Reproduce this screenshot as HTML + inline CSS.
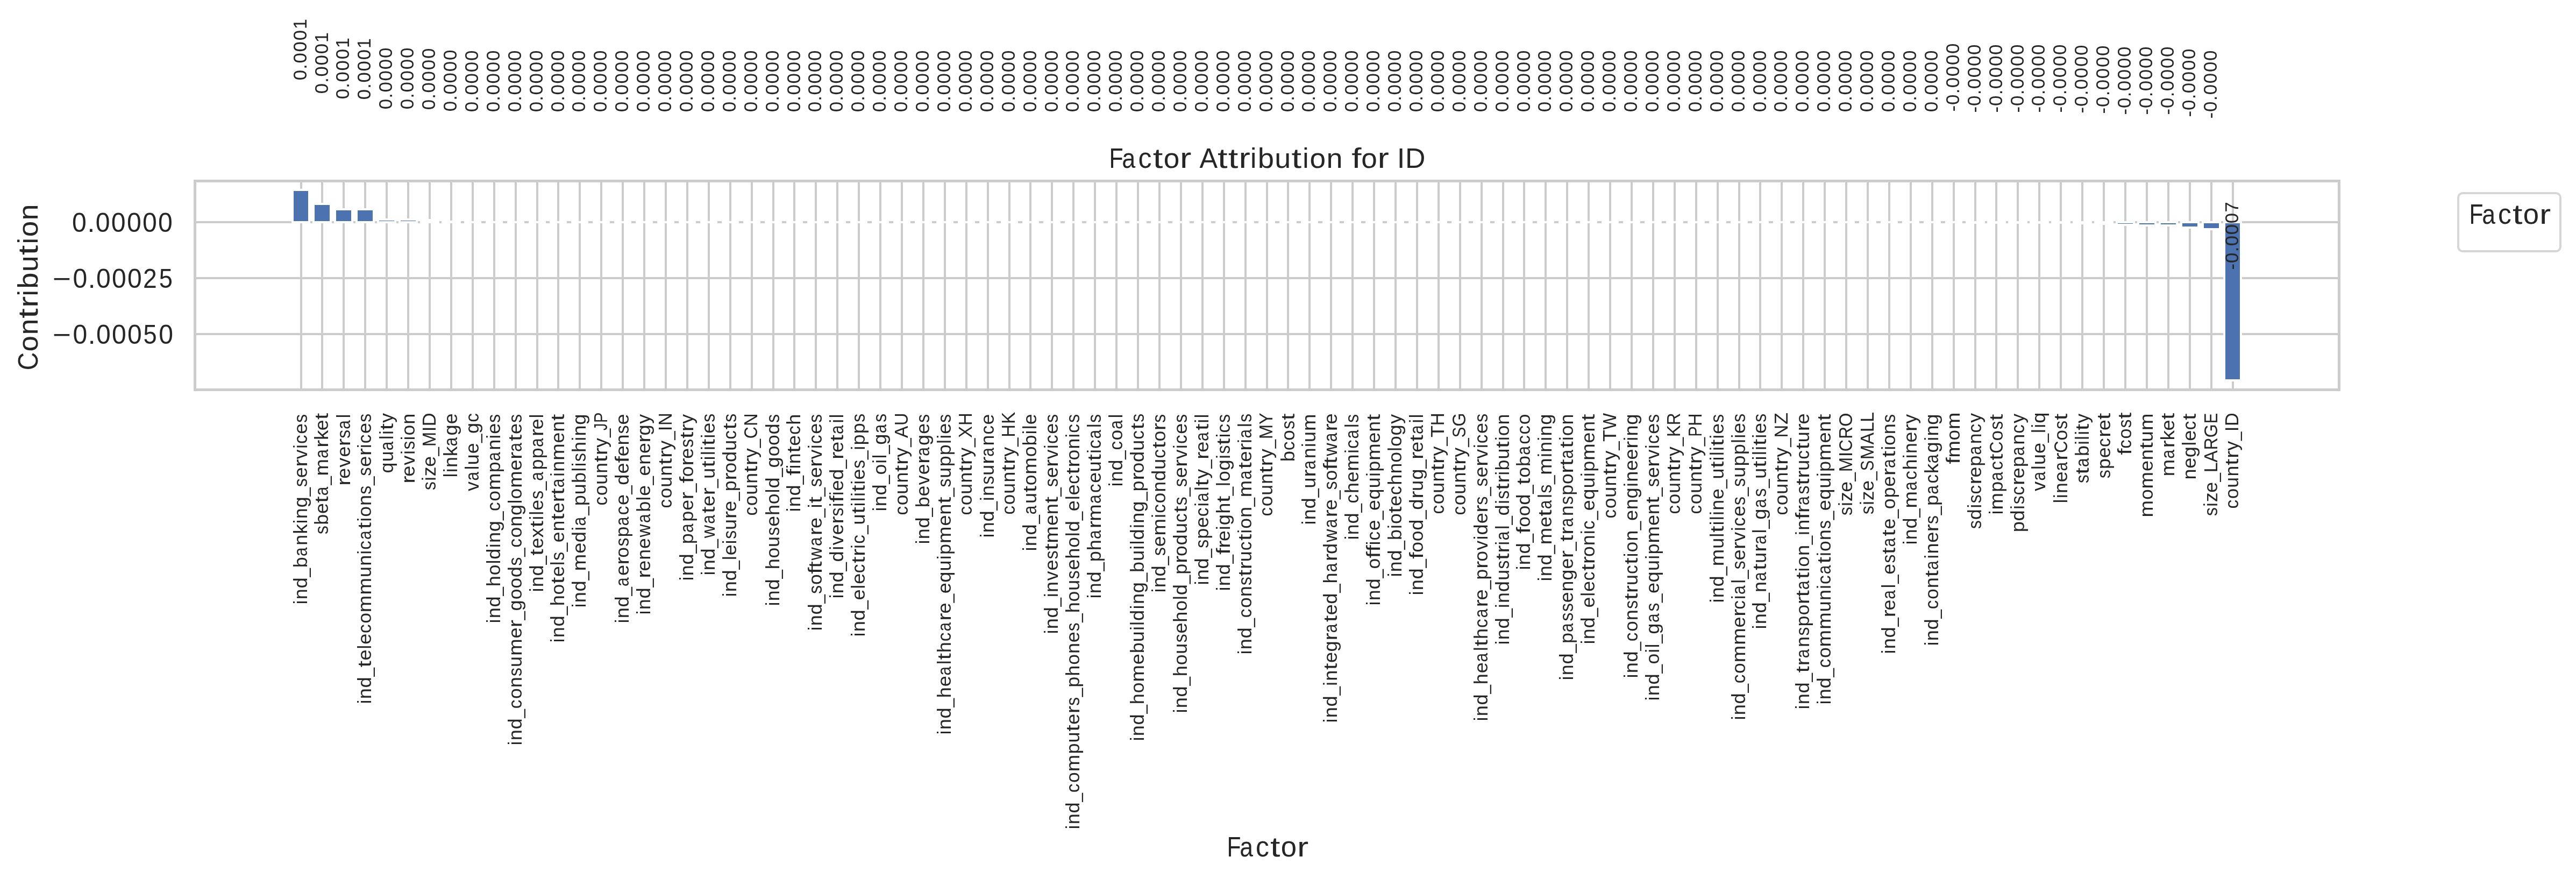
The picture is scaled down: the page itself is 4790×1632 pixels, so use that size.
<!DOCTYPE html>
<html><head><meta charset="utf-8"><title>Factor Attribution for ID</title><style>
html,body{margin:0;padding:0;background:#fff;overflow:hidden}
svg{display:block;will-change:transform}
text{font-family:"Liberation Sans",sans-serif;fill:#262626;font-kerning:none;}
</style></head><body>
<svg width="4790" height="1632" viewBox="0 0 4790 1632" shape-rendering="crispEdges">
<rect width="4790" height="1632" fill="#ffffff"/>
<g class="g" fill="#cccccc"><rect x="558" y="334" width="4" height="393"/><rect x="597" y="334" width="4" height="393"/><rect x="637" y="334" width="4" height="393"/><rect x="677" y="334" width="4" height="393"/><rect x="717" y="334" width="4" height="393"/><rect x="757" y="334" width="4" height="393"/><rect x="797" y="334" width="4" height="393"/><rect x="837" y="334" width="4" height="393"/><rect x="877" y="334" width="4" height="393"/><rect x="917" y="334" width="4" height="393"/><rect x="957" y="334" width="4" height="393"/><rect x="997" y="334" width="4" height="393"/><rect x="1036" y="334" width="4" height="393"/><rect x="1076" y="334" width="4" height="393"/><rect x="1116" y="334" width="4" height="393"/><rect x="1156" y="334" width="4" height="393"/><rect x="1196" y="334" width="4" height="393"/><rect x="1236" y="334" width="4" height="393"/><rect x="1276" y="334" width="4" height="393"/><rect x="1316" y="334" width="4" height="393"/><rect x="1356" y="334" width="4" height="393"/><rect x="1396" y="334" width="4" height="393"/><rect x="1436" y="334" width="4" height="393"/><rect x="1475" y="334" width="4" height="393"/><rect x="1515" y="334" width="4" height="393"/><rect x="1555" y="334" width="4" height="393"/><rect x="1595" y="334" width="4" height="393"/><rect x="1635" y="334" width="4" height="393"/><rect x="1675" y="334" width="4" height="393"/><rect x="1715" y="334" width="4" height="393"/><rect x="1755" y="334" width="4" height="393"/><rect x="1795" y="334" width="4" height="393"/><rect x="1835" y="334" width="4" height="393"/><rect x="1875" y="334" width="4" height="393"/><rect x="1914" y="334" width="4" height="393"/><rect x="1954" y="334" width="4" height="393"/><rect x="1994" y="334" width="4" height="393"/><rect x="2034" y="334" width="4" height="393"/><rect x="2074" y="334" width="4" height="393"/><rect x="2114" y="334" width="4" height="393"/><rect x="2154" y="334" width="4" height="393"/><rect x="2194" y="334" width="4" height="393"/><rect x="2234" y="334" width="4" height="393"/><rect x="2274" y="334" width="4" height="393"/><rect x="2314" y="334" width="4" height="393"/><rect x="2354" y="334" width="4" height="393"/><rect x="2393" y="334" width="4" height="393"/><rect x="2433" y="334" width="4" height="393"/><rect x="2473" y="334" width="4" height="393"/><rect x="2513" y="334" width="4" height="393"/><rect x="2553" y="334" width="4" height="393"/><rect x="2593" y="334" width="4" height="393"/><rect x="2633" y="334" width="4" height="393"/><rect x="2673" y="334" width="4" height="393"/><rect x="2713" y="334" width="4" height="393"/><rect x="2753" y="334" width="4" height="393"/><rect x="2793" y="334" width="4" height="393"/><rect x="2832" y="334" width="4" height="393"/><rect x="2872" y="334" width="4" height="393"/><rect x="2912" y="334" width="4" height="393"/><rect x="2952" y="334" width="4" height="393"/><rect x="2992" y="334" width="4" height="393"/><rect x="3032" y="334" width="4" height="393"/><rect x="3072" y="334" width="4" height="393"/><rect x="3112" y="334" width="4" height="393"/><rect x="3152" y="334" width="4" height="393"/><rect x="3192" y="334" width="4" height="393"/><rect x="3232" y="334" width="4" height="393"/><rect x="3271" y="334" width="4" height="393"/><rect x="3311" y="334" width="4" height="393"/><rect x="3351" y="334" width="4" height="393"/><rect x="3391" y="334" width="4" height="393"/><rect x="3431" y="334" width="4" height="393"/><rect x="3471" y="334" width="4" height="393"/><rect x="3511" y="334" width="4" height="393"/><rect x="3551" y="334" width="4" height="393"/><rect x="3591" y="334" width="4" height="393"/><rect x="3631" y="334" width="4" height="393"/><rect x="3671" y="334" width="4" height="393"/><rect x="3710" y="334" width="4" height="393"/><rect x="3750" y="334" width="4" height="393"/><rect x="3790" y="334" width="4" height="393"/><rect x="3830" y="334" width="4" height="393"/><rect x="3870" y="334" width="4" height="393"/><rect x="3910" y="334" width="4" height="393"/><rect x="3950" y="334" width="4" height="393"/><rect x="3990" y="334" width="4" height="393"/><rect x="4030" y="334" width="4" height="393"/><rect x="4070" y="334" width="4" height="393"/><rect x="4110" y="334" width="4" height="393"/><rect x="4150" y="334" width="4" height="393"/><rect x="360" y="619" width="3992" height="4"/><rect x="360" y="515" width="3992" height="4"/><rect x="360" y="411" width="3992" height="4"/></g>
<g class="bar" fill="#ffffff"><rect x="542" y="351" width="35" height="64"/><rect x="581" y="377" width="36" height="38"/><rect x="621" y="387" width="36" height="28"/><rect x="661" y="387" width="36" height="28"/><rect x="701" y="406" width="36" height="9"/><rect x="741" y="406" width="36" height="9"/><rect x="781" y="407" width="36" height="8"/><rect x="821" y="410" width="36" height="5"/><rect x="863" y="411" width="32" height="4"/><rect x="903" y="411" width="32" height="4"/><rect x="943" y="411" width="32" height="4"/><rect x="983" y="411" width="32" height="4"/><rect x="1022" y="411" width="32" height="4"/><rect x="1062" y="411" width="32" height="4"/><rect x="1102" y="411" width="32" height="4"/><rect x="1142" y="411" width="32" height="4"/><rect x="1182" y="411" width="32" height="4"/><rect x="1222" y="411" width="32" height="4"/><rect x="1262" y="411" width="32" height="4"/><rect x="1302" y="411" width="32" height="4"/><rect x="1342" y="411" width="32" height="4"/><rect x="1382" y="411" width="32" height="4"/><rect x="1422" y="411" width="32" height="4"/><rect x="1462" y="411" width="31" height="4"/><rect x="1501" y="411" width="32" height="4"/><rect x="1541" y="411" width="32" height="4"/><rect x="1581" y="411" width="32" height="4"/><rect x="1621" y="411" width="32" height="4"/><rect x="1661" y="411" width="32" height="4"/><rect x="1701" y="411" width="32" height="4"/><rect x="1741" y="411" width="32" height="4"/><rect x="1781" y="411" width="32" height="4"/><rect x="1821" y="411" width="32" height="4"/><rect x="1861" y="411" width="32" height="4"/><rect x="1901" y="411" width="31" height="4"/><rect x="1940" y="411" width="32" height="4"/><rect x="1980" y="411" width="32" height="4"/><rect x="2020" y="411" width="32" height="4"/><rect x="2060" y="411" width="32" height="4"/><rect x="2100" y="411" width="32" height="4"/><rect x="2140" y="411" width="32" height="4"/><rect x="2180" y="411" width="32" height="4"/><rect x="2220" y="411" width="32" height="4"/><rect x="2260" y="411" width="32" height="4"/><rect x="2300" y="411" width="32" height="4"/><rect x="2340" y="411" width="31" height="4"/><rect x="2379" y="411" width="32" height="4"/><rect x="2419" y="411" width="32" height="4"/><rect x="2459" y="411" width="32" height="4"/><rect x="2499" y="411" width="32" height="4"/><rect x="2539" y="411" width="32" height="4"/><rect x="2579" y="411" width="32" height="4"/><rect x="2619" y="411" width="32" height="4"/><rect x="2659" y="411" width="32" height="4"/><rect x="2699" y="411" width="32" height="4"/><rect x="2739" y="411" width="32" height="4"/><rect x="2779" y="411" width="32" height="4"/><rect x="2818" y="411" width="32" height="4"/><rect x="2858" y="411" width="32" height="4"/><rect x="2898" y="411" width="32" height="4"/><rect x="2938" y="411" width="32" height="4"/><rect x="2978" y="411" width="32" height="4"/><rect x="3018" y="411" width="32" height="4"/><rect x="3058" y="411" width="32" height="4"/><rect x="3098" y="411" width="32" height="4"/><rect x="3138" y="411" width="32" height="4"/><rect x="3178" y="411" width="32" height="4"/><rect x="3218" y="411" width="32" height="4"/><rect x="3258" y="411" width="31" height="4"/><rect x="3297" y="411" width="32" height="4"/><rect x="3337" y="411" width="32" height="4"/><rect x="3377" y="411" width="32" height="4"/><rect x="3417" y="411" width="32" height="4"/><rect x="3457" y="411" width="32" height="4"/><rect x="3497" y="411" width="32" height="4"/><rect x="3537" y="411" width="32" height="4"/><rect x="3577" y="411" width="32" height="4"/><rect x="3617" y="411" width="32" height="4"/><rect x="3655" y="411" width="36" height="5"/><rect x="3695" y="411" width="35" height="5"/><rect x="3734" y="411" width="36" height="5"/><rect x="3774" y="411" width="36" height="5"/><rect x="3814" y="411" width="36" height="5"/><rect x="3854" y="411" width="36" height="6"/><rect x="3894" y="411" width="36" height="7"/><rect x="3934" y="411" width="36" height="9"/><rect x="3974" y="411" width="36" height="10"/><rect x="4014" y="411" width="36" height="10"/><rect x="4054" y="411" width="36" height="14"/><rect x="4094" y="411" width="36" height="17"/><rect x="4134" y="411" width="35" height="298"/></g>
<g class="bar" fill="#4c72b0"><rect x="546" y="355" width="27" height="56"/><rect x="585" y="381" width="28" height="30"/><rect x="625" y="391" width="28" height="20"/><rect x="665" y="391" width="28" height="20"/><rect x="705" y="410" width="28" height="1" fill-opacity="0.98"/><rect x="745" y="410" width="28" height="1" fill-opacity="0.98"/><rect x="3938" y="415" width="28" height="1" fill-opacity="0.98"/><rect x="3978" y="415" width="28" height="2"/><rect x="4018" y="415" width="28" height="2"/><rect x="4058" y="415" width="28" height="6"/><rect x="4098" y="415" width="28" height="9"/><rect x="4138" y="415" width="27" height="290"/></g>
<g class="sp" fill="#cccccc"><rect x="360" y="334" width="5" height="393"/><rect x="4347" y="334" width="5" height="393"/><rect x="360" y="334" width="3992" height="5"/><rect x="360" y="722" width="3992" height="5"/></g>
<rect class="oth" x="4571.00" y="359.00" width="190.00" height="108.00" rx="8.3" ry="8.3" fill="rgba(255,255,255,0.8)" stroke="#d6d6d6" stroke-width="4" shape-rendering="geometricPrecision"/>
<g shape-rendering="geometricPrecision">
<g class="ev" font-size="35.00" transform="translate(570.52 1121.00) rotate(-90)"><text transform="translate(-2.27 0) scale(0.971 1)">i</text><text transform="translate(6.73 0) scale(1.024 1)">n</text><text transform="translate(27.47 0) scale(1.032 1)">d</text><text transform="translate(48.46 0) scale(0.847 1)">_</text><text transform="translate(65.84 0) scale(1.033 1)">b</text><text transform="translate(87.06 0) scale(0.854 1)">a</text><text transform="translate(107.29 0) scale(1.024 1)">n</text><text transform="translate(128.22 0) scale(1.062 1)">k</text><text transform="translate(147.76 0) scale(0.971 1)">i</text><text transform="translate(156.76 0) scale(1.024 1)">n</text><text transform="translate(177.49 0) scale(1.032 1)">g</text><text transform="translate(198.49 0) scale(0.847 1)">_</text><text transform="translate(216.10 0) scale(0.910 1)">s</text><text transform="translate(232.81 0) scale(1.025 1)">e</text><text transform="translate(253.13 0) scale(1.216 1)">r</text><text transform="translate(267.51 0) scale(1.025 1)">v</text><text transform="translate(287.19 0) scale(0.971 1)">i</text><text transform="translate(295.97 0) scale(0.953 1)">c</text><text transform="translate(314.18 0) scale(1.025 1)">e</text><text transform="translate(335.22 0) scale(0.910 1)">s</text></g>
<g class="od" font-size="35.00" transform="translate(610.43 992.00) rotate(-90)"><text transform="translate(-0.88 0) scale(0.908 1)">s</text><text transform="translate(16.18 0) scale(1.031 1)">b</text><text transform="translate(36.95 0) scale(1.024 1)">e</text><text transform="translate(57.26 0) scale(1.267 1)">t</text><text transform="translate(70.70 0) scale(0.852 1)">a</text><text transform="translate(90.38 0) scale(0.845 1)">_</text><text transform="translate(107.55 0) scale(1.080 1)">m</text><text transform="translate(140.24 0) scale(0.852 1)">a</text><text transform="translate(159.98 0) scale(1.214 1)">r</text><text transform="translate(173.99 0) scale(1.060 1)">k</text><text transform="translate(191.69 0) scale(1.024 1)">e</text><text transform="translate(212.01 0) scale(1.267 1)">t</text></g>
<g class="ev" font-size="35.00" transform="translate(650.84 900.00) rotate(-90)"><text transform="translate(-2.83 0) scale(1.217 1)">r</text><text transform="translate(10.25 0) scale(1.026 1)">e</text><text transform="translate(31.25 0) scale(1.025 1)">v</text><text transform="translate(50.39 0) scale(1.026 1)">e</text><text transform="translate(70.72 0) scale(1.217 1)">r</text><text transform="translate(85.15 0) scale(0.910 1)">s</text><text transform="translate(102.29 0) scale(0.854 1)">a</text><text transform="translate(122.72 0) scale(0.971 1)">l</text></g>
<g class="od" font-size="35.00" transform="translate(690.25 1306.00) rotate(-90)"><text transform="translate(-2.28 0) scale(0.972 1)">i</text><text transform="translate(6.74 0) scale(1.026 1)">n</text><text transform="translate(27.52 0) scale(1.034 1)">d</text><text transform="translate(48.55 0) scale(0.848 1)">_</text><text transform="translate(65.51 0) scale(1.271 1)">t</text><text transform="translate(78.58 0) scale(1.028 1)">e</text><text transform="translate(99.59 0) scale(0.972 1)">l</text><text transform="translate(108.30 0) scale(1.028 1)">e</text><text transform="translate(128.88 0) scale(0.955 1)">c</text><text transform="translate(147.17 0) scale(1.011 1)">o</text><text transform="translate(167.80 0) scale(1.084 1)">m</text><text transform="translate(200.39 0) scale(1.084 1)">m</text><text transform="translate(232.97 0) scale(1.026 1)">u</text><text transform="translate(254.22 0) scale(1.026 1)">n</text><text transform="translate(275.54 0) scale(0.972 1)">i</text><text transform="translate(284.34 0) scale(0.955 1)">c</text><text transform="translate(303.00 0) scale(0.855 1)">a</text><text transform="translate(322.84 0) scale(1.271 1)">t</text><text transform="translate(336.47 0) scale(0.972 1)">i</text><text transform="translate(345.20 0) scale(1.011 1)">o</text><text transform="translate(365.97 0) scale(1.026 1)">n</text><text transform="translate(387.34 0) scale(0.912 1)">s</text><text transform="translate(403.91 0) scale(0.848 1)">_</text><text transform="translate(421.56 0) scale(0.912 1)">s</text><text transform="translate(438.30 0) scale(1.028 1)">e</text><text transform="translate(458.66 0) scale(1.219 1)">r</text><text transform="translate(473.07 0) scale(0.972 1)">i</text><text transform="translate(481.86 0) scale(0.955 1)">c</text><text transform="translate(500.11 0) scale(1.028 1)">e</text><text transform="translate(521.19 0) scale(0.912 1)">s</text></g>
<g class="ev" font-size="35.00" transform="translate(730.66 878.00) rotate(-90)"><text transform="translate(-1.50 0) scale(1.023 1)">q</text><text transform="translate(19.70 0) scale(1.016 1)">u</text><text transform="translate(40.84 0) scale(0.848 1)">a</text><text transform="translate(61.12 0) scale(0.964 1)">l</text><text transform="translate(70.29 0) scale(0.964 1)">i</text><text transform="translate(78.81 0) scale(1.260 1)">t</text><text transform="translate(92.36 0) scale(1.012 1)">y</text></g>
<g class="od" font-size="35.00" transform="translate(770.58 896.00) rotate(-90)"><text transform="translate(-2.84 0) scale(1.221 1)">r</text><text transform="translate(10.29 0) scale(1.030 1)">e</text><text transform="translate(31.37 0) scale(1.029 1)">v</text><text transform="translate(51.13 0) scale(0.974 1)">i</text><text transform="translate(60.44 0) scale(0.914 1)">s</text><text transform="translate(77.78 0) scale(0.974 1)">i</text><text transform="translate(86.52 0) scale(1.013 1)">o</text><text transform="translate(107.33 0) scale(1.028 1)">n</text></g>
<g class="ev" font-size="35.00" transform="translate(809.99 910.00) rotate(-90)"><text transform="translate(-0.88 0) scale(0.908 1)">s</text><text transform="translate(16.34 0) scale(0.968 1)">i</text><text transform="translate(24.67 0) scale(1.015 1)">z</text><text transform="translate(42.27 0) scale(1.023 1)">e</text><text transform="translate(62.48 0) scale(0.845 1)">_</text><text transform="translate(79.68 0) scale(0.944 1)">M</text><text transform="translate(107.75 0) scale(1.002 1)">I</text><text transform="translate(117.87 0) scale(0.980 1)">D</text></g>
<g class="od" font-size="35.00" transform="translate(850.40 885.00) rotate(-90)"><text transform="translate(-2.29 0) scale(0.970 1)">l</text><text transform="translate(6.94 0) scale(0.970 1)">i</text><text transform="translate(15.93 0) scale(1.023 1)">n</text><text transform="translate(36.85 0) scale(1.061 1)">k</text><text transform="translate(55.61 0) scale(0.853 1)">a</text><text transform="translate(75.49 0) scale(1.031 1)">g</text><text transform="translate(96.65 0) scale(1.025 1)">e</text></g>
<g class="ev" font-size="35.00" transform="translate(889.81 913.00) rotate(-90)"><text transform="translate(-0.12 0) scale(1.025 1)">v</text><text transform="translate(19.43 0) scale(0.854 1)">a</text><text transform="translate(39.87 0) scale(0.971 1)">l</text><text transform="translate(48.75 0) scale(1.024 1)">u</text><text transform="translate(69.63 0) scale(1.026 1)">e</text><text transform="translate(89.89 0) scale(0.847 1)">_</text><text transform="translate(106.91 0) scale(1.032 1)">g</text><text transform="translate(128.20 0) scale(0.953 1)">c</text></g>
<g class="od" font-size="35.00" transform="translate(929.72 1156.00) rotate(-90)"><text transform="translate(-2.28 0) scale(0.972 1)">i</text><text transform="translate(6.74 0) scale(1.025 1)">n</text><text transform="translate(27.50 0) scale(1.033 1)">d</text><text transform="translate(48.52 0) scale(0.848 1)">_</text><text transform="translate(65.75 0) scale(1.032 1)">h</text><text transform="translate(86.67 0) scale(1.011 1)">o</text><text transform="translate(107.63 0) scale(0.972 1)">l</text><text transform="translate(116.33 0) scale(1.033 1)">d</text><text transform="translate(138.09 0) scale(0.972 1)">i</text><text transform="translate(147.10 0) scale(1.025 1)">n</text><text transform="translate(167.86 0) scale(1.033 1)">g</text><text transform="translate(188.88 0) scale(0.848 1)">_</text><text transform="translate(206.02 0) scale(0.954 1)">c</text><text transform="translate(224.29 0) scale(1.011 1)">o</text><text transform="translate(244.90 0) scale(1.083 1)">m</text><text transform="translate(277.65 0) scale(1.034 1)">p</text><text transform="translate(298.90 0) scale(0.855 1)">a</text><text transform="translate(319.15 0) scale(1.025 1)">n</text><text transform="translate(340.46 0) scale(0.972 1)">i</text><text transform="translate(349.14 0) scale(1.027 1)">e</text><text transform="translate(370.21 0) scale(0.911 1)">s</text></g>
<g class="ev" font-size="35.00" transform="translate(969.63 1383.00) rotate(-90)"><text transform="translate(-2.28 0) scale(0.972 1)">i</text><text transform="translate(6.74 0) scale(1.025 1)">n</text><text transform="translate(27.51 0) scale(1.034 1)">d</text><text transform="translate(48.54 0) scale(0.848 1)">_</text><text transform="translate(65.69 0) scale(0.954 1)">c</text><text transform="translate(83.97 0) scale(1.011 1)">o</text><text transform="translate(104.73 0) scale(1.025 1)">n</text><text transform="translate(126.10 0) scale(0.912 1)">s</text><text transform="translate(143.03 0) scale(1.025 1)">u</text><text transform="translate(164.14 0) scale(1.084 1)">m</text><text transform="translate(196.52 0) scale(1.027 1)">e</text><text transform="translate(216.87 0) scale(1.219 1)">r</text><text transform="translate(230.54 0) scale(0.848 1)">_</text><text transform="translate(247.58 0) scale(1.034 1)">g</text><text transform="translate(268.84 0) scale(1.011 1)">o</text><text transform="translate(289.31 0) scale(1.011 1)">o</text><text transform="translate(309.75 0) scale(1.034 1)">d</text><text transform="translate(331.57 0) scale(0.912 1)">s</text><text transform="translate(348.13 0) scale(0.848 1)">_</text><text transform="translate(365.27 0) scale(0.954 1)">c</text><text transform="translate(383.55 0) scale(1.011 1)">o</text><text transform="translate(404.31 0) scale(1.025 1)">n</text><text transform="translate(425.09 0) scale(1.034 1)">g</text><text transform="translate(446.84 0) scale(0.972 1)">l</text><text transform="translate(455.58 0) scale(1.011 1)">o</text><text transform="translate(476.20 0) scale(1.084 1)">m</text><text transform="translate(508.59 0) scale(1.027 1)">e</text><text transform="translate(528.94 0) scale(1.219 1)">r</text><text transform="translate(543.21 0) scale(0.855 1)">a</text><text transform="translate(563.05 0) scale(1.271 1)">t</text><text transform="translate(576.12 0) scale(1.027 1)">e</text><text transform="translate(597.20 0) scale(0.912 1)">s</text></g>
<g class="od" font-size="35.00" transform="translate(1009.54 1098.00) rotate(-90)"><text transform="translate(-2.27 0) scale(0.970 1)">i</text><text transform="translate(6.73 0) scale(1.023 1)">n</text><text transform="translate(27.46 0) scale(1.032 1)">d</text><text transform="translate(48.44 0) scale(0.846 1)">_</text><text transform="translate(65.36 0) scale(1.269 1)">t</text><text transform="translate(78.40 0) scale(1.025 1)">e</text><text transform="translate(98.44 0) scale(1.053 1)">x</text><text transform="translate(117.80 0) scale(1.269 1)">t</text><text transform="translate(131.39 0) scale(0.970 1)">i</text><text transform="translate(140.60 0) scale(0.970 1)">l</text><text transform="translate(149.28 0) scale(1.025 1)">e</text><text transform="translate(170.32 0) scale(0.910 1)">s</text><text transform="translate(186.84 0) scale(0.846 1)">_</text><text transform="translate(204.26 0) scale(0.853 1)">a</text><text transform="translate(224.53 0) scale(1.033 1)">p</text><text transform="translate(245.70 0) scale(1.033 1)">p</text><text transform="translate(266.92 0) scale(0.853 1)">a</text><text transform="translate(286.69 0) scale(1.216 1)">r</text><text transform="translate(299.76 0) scale(1.025 1)">e</text><text transform="translate(320.73 0) scale(0.970 1)">l</text></g>
<g class="ev" font-size="35.00" transform="translate(1049.45 1192.00) rotate(-90)"><text transform="translate(-2.27 0) scale(0.971 1)">i</text><text transform="translate(6.73 0) scale(1.024 1)">n</text><text transform="translate(27.48 0) scale(1.032 1)">d</text><text transform="translate(48.48 0) scale(0.847 1)">_</text><text transform="translate(65.70 0) scale(1.031 1)">h</text><text transform="translate(86.60 0) scale(1.010 1)">o</text><text transform="translate(106.92 0) scale(1.269 1)">t</text><text transform="translate(119.97 0) scale(1.026 1)">e</text><text transform="translate(140.95 0) scale(0.971 1)">l</text><text transform="translate(150.25 0) scale(0.910 1)">s</text><text transform="translate(166.79 0) scale(0.847 1)">_</text><text transform="translate(183.80 0) scale(1.026 1)">e</text><text transform="translate(204.58 0) scale(1.024 1)">n</text><text transform="translate(225.23 0) scale(1.269 1)">t</text><text transform="translate(238.28 0) scale(1.026 1)">e</text><text transform="translate(258.61 0) scale(1.217 1)">r</text><text transform="translate(272.35 0) scale(1.269 1)">t</text><text transform="translate(285.82 0) scale(0.854 1)">a</text><text transform="translate(306.27 0) scale(0.971 1)">i</text><text transform="translate(315.28 0) scale(1.024 1)">n</text><text transform="translate(336.21 0) scale(1.082 1)">m</text><text transform="translate(368.56 0) scale(1.026 1)">e</text><text transform="translate(389.33 0) scale(1.024 1)">n</text><text transform="translate(409.98 0) scale(1.269 1)">t</text></g>
<g class="od" font-size="35.00" transform="translate(1089.36 1127.00) rotate(-90)"><text transform="translate(-2.28 0) scale(0.973 1)">i</text><text transform="translate(6.74 0) scale(1.026 1)">n</text><text transform="translate(27.52 0) scale(1.034 1)">d</text><text transform="translate(48.56 0) scale(0.849 1)">_</text><text transform="translate(65.80 0) scale(1.084 1)">m</text><text transform="translate(98.19 0) scale(1.028 1)">e</text><text transform="translate(118.68 0) scale(1.034 1)">d</text><text transform="translate(140.45 0) scale(0.973 1)">i</text><text transform="translate(149.56 0) scale(0.856 1)">a</text><text transform="translate(169.31 0) scale(0.849 1)">_</text><text transform="translate(186.73 0) scale(1.035 1)">p</text><text transform="translate(207.77 0) scale(1.026 1)">u</text><text transform="translate(229.06 0) scale(1.035 1)">b</text><text transform="translate(250.45 0) scale(0.973 1)">l</text><text transform="translate(259.70 0) scale(0.973 1)">i</text><text transform="translate(269.00 0) scale(0.912 1)">s</text><text transform="translate(285.96 0) scale(1.033 1)">h</text><text transform="translate(307.40 0) scale(0.973 1)">i</text><text transform="translate(316.42 0) scale(1.026 1)">n</text><text transform="translate(337.20 0) scale(1.034 1)">g</text></g>
<g class="ev" font-size="35.00" transform="translate(1128.77 938.00) rotate(-90)"><text transform="translate(-1.41 0) scale(0.948 1)">c</text><text transform="translate(16.75 0) scale(1.004 1)">o</text><text transform="translate(37.23 0) scale(1.019 1)">u</text><text transform="translate(58.33 0) scale(1.019 1)">n</text><text transform="translate(78.87 0) scale(1.263 1)">t</text><text transform="translate(91.74 0) scale(1.210 1)">r</text><text transform="translate(106.08 0) scale(1.015 1)">y</text><text transform="translate(124.90 0) scale(0.843 1)">_</text><text transform="translate(138.12 0) scale(0.750 1)">J</text><text transform="translate(152.04 0) scale(0.836 1)">P</text></g>
<g class="od" font-size="35.00" transform="translate(1169.19 1156.00) rotate(-90)"><text transform="translate(-2.28 0) scale(0.972 1)">i</text><text transform="translate(6.74 0) scale(1.025 1)">n</text><text transform="translate(27.50 0) scale(1.033 1)">d</text><text transform="translate(48.52 0) scale(0.848 1)">_</text><text transform="translate(65.96 0) scale(0.855 1)">a</text><text transform="translate(85.88 0) scale(1.027 1)">e</text><text transform="translate(106.23 0) scale(1.218 1)">r</text><text transform="translate(119.36 0) scale(1.011 1)">o</text><text transform="translate(140.39 0) scale(0.911 1)">s</text><text transform="translate(157.51 0) scale(1.034 1)">p</text><text transform="translate(178.75 0) scale(0.855 1)">a</text><text transform="translate(198.78 0) scale(0.954 1)">c</text><text transform="translate(217.01 0) scale(1.027 1)">e</text><text transform="translate(237.29 0) scale(0.848 1)">_</text><text transform="translate(254.33 0) scale(1.033 1)">d</text><text transform="translate(275.53 0) scale(1.027 1)">e</text><text transform="translate(295.83 0) scale(1.248 1)">f</text><text transform="translate(307.72 0) scale(1.027 1)">e</text><text transform="translate(328.51 0) scale(1.025 1)">n</text><text transform="translate(349.87 0) scale(0.911 1)">s</text><text transform="translate(366.61 0) scale(1.027 1)">e</text></g>
<g class="ev" font-size="35.00" transform="translate(1209.10 1140.00) rotate(-90)"><text transform="translate(-2.27 0) scale(0.970 1)">i</text><text transform="translate(6.73 0) scale(1.023 1)">n</text><text transform="translate(27.46 0) scale(1.032 1)">d</text><text transform="translate(48.45 0) scale(0.847 1)">_</text><text transform="translate(65.33 0) scale(1.216 1)">r</text><text transform="translate(78.41 0) scale(1.025 1)">e</text><text transform="translate(99.17 0) scale(1.023 1)">n</text><text transform="translate(119.90 0) scale(1.025 1)">e</text><text transform="translate(141.47 0) scale(0.959 1)">w</text><text transform="translate(167.91 0) scale(0.854 1)">a</text><text transform="translate(188.18 0) scale(1.033 1)">b</text><text transform="translate(209.51 0) scale(0.970 1)">l</text><text transform="translate(218.20 0) scale(1.025 1)">e</text><text transform="translate(238.45 0) scale(0.847 1)">_</text><text transform="translate(255.45 0) scale(1.025 1)">e</text><text transform="translate(276.22 0) scale(1.023 1)">n</text><text transform="translate(296.94 0) scale(1.025 1)">e</text><text transform="translate(317.26 0) scale(1.216 1)">r</text><text transform="translate(330.46 0) scale(1.032 1)">g</text><text transform="translate(352.23 0) scale(1.019 1)">y</text></g>
<g class="od" font-size="35.00" transform="translate(1248.51 943.00) rotate(-90)"><text transform="translate(-1.41 0) scale(0.950 1)">c</text><text transform="translate(16.78 0) scale(1.006 1)">o</text><text transform="translate(37.30 0) scale(1.020 1)">u</text><text transform="translate(58.44 0) scale(1.020 1)">n</text><text transform="translate(79.02 0) scale(1.265 1)">t</text><text transform="translate(91.91 0) scale(1.213 1)">r</text><text transform="translate(106.28 0) scale(1.016 1)">y</text><text transform="translate(125.13 0) scale(0.844 1)">_</text><text transform="translate(141.80 0) scale(1.001 1)">I</text><text transform="translate(152.04 0) scale(0.935 1)">N</text></g>
<g class="ev" font-size="35.00" transform="translate(1288.92 1077.00) rotate(-90)"><text transform="translate(-2.27 0) scale(0.970 1)">i</text><text transform="translate(6.73 0) scale(1.024 1)">n</text><text transform="translate(27.47 0) scale(1.032 1)">d</text><text transform="translate(48.46 0) scale(0.847 1)">_</text><text transform="translate(65.84 0) scale(1.033 1)">p</text><text transform="translate(87.06 0) scale(0.854 1)">a</text><text transform="translate(107.34 0) scale(1.033 1)">p</text><text transform="translate(128.14 0) scale(1.025 1)">e</text><text transform="translate(148.46 0) scale(1.216 1)">r</text><text transform="translate(162.10 0) scale(0.847 1)">_</text><text transform="translate(178.94 0) scale(1.247 1)">f</text><text transform="translate(190.86 0) scale(1.009 1)">o</text><text transform="translate(211.13 0) scale(1.216 1)">r</text><text transform="translate(224.21 0) scale(1.025 1)">e</text><text transform="translate(245.25 0) scale(0.910 1)">s</text><text transform="translate(261.88 0) scale(1.269 1)">t</text><text transform="translate(274.81 0) scale(1.216 1)">r</text><text transform="translate(289.23 0) scale(1.020 1)">y</text></g>
<g class="od" font-size="35.00" transform="translate(1328.83 1067.00) rotate(-90)"><text transform="translate(-2.28 0) scale(0.972 1)">i</text><text transform="translate(6.74 0) scale(1.025 1)">n</text><text transform="translate(27.51 0) scale(1.033 1)">d</text><text transform="translate(48.53 0) scale(0.848 1)">_</text><text transform="translate(66.70 0) scale(0.961 1)">w</text><text transform="translate(93.19 0) scale(0.855 1)">a</text><text transform="translate(113.02 0) scale(1.271 1)">t</text><text transform="translate(126.09 0) scale(1.027 1)">e</text><text transform="translate(146.44 0) scale(1.218 1)">r</text><text transform="translate(160.10 0) scale(0.848 1)">_</text><text transform="translate(177.32 0) scale(1.025 1)">u</text><text transform="translate(198.14 0) scale(1.271 1)">t</text><text transform="translate(211.76 0) scale(0.972 1)">i</text><text transform="translate(220.98 0) scale(0.972 1)">l</text><text transform="translate(230.23 0) scale(0.972 1)">i</text><text transform="translate(238.82 0) scale(1.271 1)">t</text><text transform="translate(252.44 0) scale(0.972 1)">i</text><text transform="translate(261.13 0) scale(1.027 1)">e</text><text transform="translate(282.20 0) scale(0.911 1)">s</text></g>
<g class="ev" font-size="35.00" transform="translate(1368.74 1107.00) rotate(-90)"><text transform="translate(-2.28 0) scale(0.972 1)">i</text><text transform="translate(6.74 0) scale(1.025 1)">n</text><text transform="translate(27.51 0) scale(1.034 1)">d</text><text transform="translate(48.54 0) scale(0.848 1)">_</text><text transform="translate(66.11 0) scale(0.972 1)">l</text><text transform="translate(74.81 0) scale(1.027 1)">e</text><text transform="translate(95.84 0) scale(0.972 1)">i</text><text transform="translate(105.13 0) scale(0.912 1)">s</text><text transform="translate(122.06 0) scale(1.025 1)">u</text><text transform="translate(142.85 0) scale(1.219 1)">r</text><text transform="translate(155.95 0) scale(1.027 1)">e</text><text transform="translate(176.24 0) scale(0.848 1)">_</text><text transform="translate(193.65 0) scale(1.035 1)">p</text><text transform="translate(214.37 0) scale(1.219 1)">r</text><text transform="translate(227.52 0) scale(1.011 1)">o</text><text transform="translate(247.95 0) scale(1.034 1)">d</text><text transform="translate(269.35 0) scale(1.025 1)">u</text><text transform="translate(290.37 0) scale(0.954 1)">c</text><text transform="translate(308.52 0) scale(1.271 1)">t</text><text transform="translate(322.20 0) scale(0.912 1)">s</text></g>
<g class="od" font-size="35.00" transform="translate(1408.15 957.00) rotate(-90)"><text transform="translate(-1.41 0) scale(0.948 1)">c</text><text transform="translate(16.75 0) scale(1.004 1)">o</text><text transform="translate(37.22 0) scale(1.018 1)">u</text><text transform="translate(58.31 0) scale(1.018 1)">n</text><text transform="translate(78.84 0) scale(1.262 1)">t</text><text transform="translate(91.70 0) scale(1.210 1)">r</text><text transform="translate(106.04 0) scale(1.014 1)">y</text><text transform="translate(124.85 0) scale(0.842 1)">_</text><text transform="translate(141.76 0) scale(0.877 1)">C</text><text transform="translate(165.08 0) scale(0.933 1)">N</text></g>
<g class="ev" font-size="35.00" transform="translate(1448.56 1124.00) rotate(-90)"><text transform="translate(-2.27 0) scale(0.970 1)">i</text><text transform="translate(6.73 0) scale(1.023 1)">n</text><text transform="translate(27.46 0) scale(1.032 1)">d</text><text transform="translate(48.44 0) scale(0.846 1)">_</text><text transform="translate(65.65 0) scale(1.030 1)">h</text><text transform="translate(86.54 0) scale(1.009 1)">o</text><text transform="translate(107.11 0) scale(1.023 1)">u</text><text transform="translate(128.58 0) scale(0.910 1)">s</text><text transform="translate(145.29 0) scale(1.025 1)">e</text><text transform="translate(165.93 0) scale(1.030 1)">h</text><text transform="translate(186.81 0) scale(1.009 1)">o</text><text transform="translate(207.73 0) scale(0.970 1)">l</text><text transform="translate(216.43 0) scale(1.032 1)">d</text><text transform="translate(237.41 0) scale(0.846 1)">_</text><text transform="translate(254.42 0) scale(1.032 1)">g</text><text transform="translate(275.63 0) scale(1.009 1)">o</text><text transform="translate(296.06 0) scale(1.009 1)">o</text><text transform="translate(316.46 0) scale(1.032 1)">d</text><text transform="translate(338.23 0) scale(0.910 1)">s</text></g>
<g class="od" font-size="35.00" transform="translate(1488.47 949.00) rotate(-90)"><text transform="translate(-2.27 0) scale(0.970 1)">i</text><text transform="translate(6.72 0) scale(1.023 1)">n</text><text transform="translate(27.45 0) scale(1.031 1)">d</text><text transform="translate(48.43 0) scale(0.846 1)">_</text><text transform="translate(65.26 0) scale(1.246 1)">f</text><text transform="translate(77.68 0) scale(0.970 1)">i</text><text transform="translate(86.68 0) scale(1.023 1)">n</text><text transform="translate(107.31 0) scale(1.268 1)">t</text><text transform="translate(120.35 0) scale(1.025 1)">e</text><text transform="translate(140.88 0) scale(0.952 1)">c</text><text transform="translate(159.29 0) scale(1.030 1)">h</text></g>
<g class="ev" font-size="35.00" transform="translate(1528.38 1170.00) rotate(-90)"><text transform="translate(-2.28 0) scale(0.972 1)">i</text><text transform="translate(6.74 0) scale(1.025 1)">n</text><text transform="translate(27.50 0) scale(1.033 1)">d</text><text transform="translate(48.52 0) scale(0.848 1)">_</text><text transform="translate(66.16 0) scale(0.911 1)">s</text><text transform="translate(82.93 0) scale(1.011 1)">o</text><text transform="translate(103.19 0) scale(1.248 1)">f</text><text transform="translate(114.37 0) scale(1.271 1)">t</text><text transform="translate(128.57 0) scale(0.961 1)">w</text><text transform="translate(155.06 0) scale(0.855 1)">a</text><text transform="translate(174.86 0) scale(1.218 1)">r</text><text transform="translate(187.95 0) scale(1.027 1)">e</text><text transform="translate(208.23 0) scale(0.848 1)">_</text><text transform="translate(225.81 0) scale(0.972 1)">i</text><text transform="translate(234.41 0) scale(1.271 1)">t</text><text transform="translate(247.29 0) scale(0.848 1)">_</text><text transform="translate(264.92 0) scale(0.911 1)">s</text><text transform="translate(281.66 0) scale(1.027 1)">e</text><text transform="translate(302.00 0) scale(1.218 1)">r</text><text transform="translate(316.41 0) scale(1.026 1)">v</text><text transform="translate(336.11 0) scale(0.972 1)">i</text><text transform="translate(344.90 0) scale(0.954 1)">c</text><text transform="translate(363.14 0) scale(1.027 1)">e</text><text transform="translate(384.21 0) scale(0.911 1)">s</text></g>
<g class="od" font-size="35.00" transform="translate(1568.30 1110.00) rotate(-90)"><text transform="translate(-2.28 0) scale(0.972 1)">i</text><text transform="translate(6.74 0) scale(1.026 1)">n</text><text transform="translate(27.52 0) scale(1.034 1)">d</text><text transform="translate(48.56 0) scale(0.848 1)">_</text><text transform="translate(65.60 0) scale(1.034 1)">d</text><text transform="translate(87.38 0) scale(0.972 1)">i</text><text transform="translate(96.62 0) scale(1.027 1)">v</text><text transform="translate(115.79 0) scale(1.028 1)">e</text><text transform="translate(136.15 0) scale(1.219 1)">r</text><text transform="translate(150.61 0) scale(0.912 1)">s</text><text transform="translate(167.91 0) scale(0.972 1)">i</text><text transform="translate(176.44 0) scale(1.249 1)">f</text><text transform="translate(188.89 0) scale(0.972 1)">i</text><text transform="translate(197.58 0) scale(1.028 1)">e</text><text transform="translate(218.06 0) scale(1.034 1)">d</text><text transform="translate(239.10 0) scale(0.848 1)">_</text><text transform="translate(256.02 0) scale(1.219 1)">r</text><text transform="translate(269.12 0) scale(1.028 1)">e</text><text transform="translate(289.51 0) scale(1.271 1)">t</text><text transform="translate(303.01 0) scale(0.855 1)">a</text><text transform="translate(323.49 0) scale(0.972 1)">i</text><text transform="translate(332.71 0) scale(0.972 1)">l</text></g>
<g class="ev" font-size="35.00" transform="translate(1608.21 1181.00) rotate(-90)"><text transform="translate(-2.28 0) scale(0.972 1)">i</text><text transform="translate(6.74 0) scale(1.025 1)">n</text><text transform="translate(27.51 0) scale(1.034 1)">d</text><text transform="translate(48.54 0) scale(0.848 1)">_</text><text transform="translate(65.57 0) scale(1.027 1)">e</text><text transform="translate(86.58 0) scale(0.972 1)">l</text><text transform="translate(95.28 0) scale(1.027 1)">e</text><text transform="translate(115.86 0) scale(0.954 1)">c</text><text transform="translate(134.01 0) scale(1.271 1)">t</text><text transform="translate(146.96 0) scale(1.218 1)">r</text><text transform="translate(161.36 0) scale(0.972 1)">i</text><text transform="translate(170.15 0) scale(0.954 1)">c</text><text transform="translate(188.21 0) scale(0.848 1)">_</text><text transform="translate(205.43 0) scale(1.025 1)">u</text><text transform="translate(226.25 0) scale(1.271 1)">t</text><text transform="translate(239.87 0) scale(0.972 1)">i</text><text transform="translate(249.09 0) scale(0.972 1)">l</text><text transform="translate(258.34 0) scale(0.972 1)">i</text><text transform="translate(266.94 0) scale(1.271 1)">t</text><text transform="translate(280.56 0) scale(0.972 1)">i</text><text transform="translate(289.25 0) scale(1.027 1)">e</text><text transform="translate(310.32 0) scale(0.912 1)">s</text><text transform="translate(326.88 0) scale(0.848 1)">_</text><text transform="translate(344.47 0) scale(0.972 1)">i</text><text transform="translate(353.53 0) scale(1.035 1)">p</text><text transform="translate(374.75 0) scale(1.035 1)">p</text><text transform="translate(396.20 0) scale(0.912 1)">s</text></g>
<g class="od" font-size="35.00" transform="translate(1648.12 948.00) rotate(-90)"><text transform="translate(-2.27 0) scale(0.970 1)">i</text><text transform="translate(6.73 0) scale(1.023 1)">n</text><text transform="translate(27.46 0) scale(1.032 1)">d</text><text transform="translate(48.45 0) scale(0.847 1)">_</text><text transform="translate(65.49 0) scale(1.009 1)">o</text><text transform="translate(86.43 0) scale(0.970 1)">i</text><text transform="translate(95.63 0) scale(0.970 1)">l</text><text transform="translate(104.13 0) scale(0.847 1)">_</text><text transform="translate(121.14 0) scale(1.032 1)">g</text><text transform="translate(142.73 0) scale(0.854 1)">a</text><text transform="translate(163.23 0) scale(0.910 1)">s</text></g>
<g class="ev" font-size="35.00" transform="translate(1687.53 956.00) rotate(-90)"><text transform="translate(-1.41 0) scale(0.950 1)">c</text><text transform="translate(16.79 0) scale(1.007 1)">o</text><text transform="translate(37.33 0) scale(1.021 1)">u</text><text transform="translate(58.48 0) scale(1.021 1)">n</text><text transform="translate(79.07 0) scale(1.266 1)">t</text><text transform="translate(91.96 0) scale(1.213 1)">r</text><text transform="translate(106.35 0) scale(1.017 1)">y</text><text transform="translate(125.21 0) scale(0.845 1)">_</text><text transform="translate(142.06 0) scale(0.954 1)">A</text><text transform="translate(164.99 0) scale(0.931 1)">U</text></g>
<g class="od" font-size="35.00" transform="translate(1727.94 1009.00) rotate(-90)"><text transform="translate(-2.27 0) scale(0.970 1)">i</text><text transform="translate(6.72 0) scale(1.023 1)">n</text><text transform="translate(27.44 0) scale(1.031 1)">d</text><text transform="translate(48.41 0) scale(0.846 1)">_</text><text transform="translate(65.78 0) scale(1.032 1)">b</text><text transform="translate(86.56 0) scale(1.025 1)">e</text><text transform="translate(107.54 0) scale(1.024 1)">v</text><text transform="translate(126.65 0) scale(1.025 1)">e</text><text transform="translate(146.95 0) scale(1.215 1)">r</text><text transform="translate(161.18 0) scale(0.853 1)">a</text><text transform="translate(181.06 0) scale(1.031 1)">g</text><text transform="translate(202.22 0) scale(1.025 1)">e</text><text transform="translate(223.24 0) scale(0.909 1)">s</text></g>
<g class="ev" font-size="35.00" transform="translate(1767.85 1363.00) rotate(-90)"><text transform="translate(-2.28 0) scale(0.972 1)">i</text><text transform="translate(6.74 0) scale(1.025 1)">n</text><text transform="translate(27.50 0) scale(1.033 1)">d</text><text transform="translate(48.52 0) scale(0.848 1)">_</text><text transform="translate(65.76 0) scale(1.032 1)">h</text><text transform="translate(86.63 0) scale(1.027 1)">e</text><text transform="translate(107.51 0) scale(0.855 1)">a</text><text transform="translate(127.97 0) scale(0.972 1)">l</text><text transform="translate(136.58 0) scale(1.271 1)">t</text><text transform="translate(149.85 0) scale(1.032 1)">h</text><text transform="translate(170.84 0) scale(0.954 1)">c</text><text transform="translate(189.49 0) scale(0.855 1)">a</text><text transform="translate(209.29 0) scale(1.218 1)">r</text><text transform="translate(222.38 0) scale(1.027 1)">e</text><text transform="translate(242.66 0) scale(0.848 1)">_</text><text transform="translate(259.69 0) scale(1.027 1)">e</text><text transform="translate(280.16 0) scale(1.032 1)">q</text><text transform="translate(301.55 0) scale(1.025 1)">u</text><text transform="translate(323.00 0) scale(0.972 1)">i</text><text transform="translate(332.06 0) scale(1.034 1)">p</text><text transform="translate(353.08 0) scale(1.083 1)">m</text><text transform="translate(385.45 0) scale(1.027 1)">e</text><text transform="translate(406.25 0) scale(1.025 1)">n</text><text transform="translate(426.91 0) scale(1.271 1)">t</text><text transform="translate(439.79 0) scale(0.848 1)">_</text><text transform="translate(457.43 0) scale(0.911 1)">s</text><text transform="translate(474.35 0) scale(1.025 1)">u</text><text transform="translate(495.63 0) scale(1.034 1)">p</text><text transform="translate(516.84 0) scale(1.034 1)">p</text><text transform="translate(538.21 0) scale(0.972 1)">l</text><text transform="translate(547.46 0) scale(0.972 1)">i</text><text transform="translate(556.14 0) scale(1.027 1)">e</text><text transform="translate(577.21 0) scale(0.911 1)">s</text></g>
<g class="od" font-size="35.00" transform="translate(1807.26 956.00) rotate(-90)"><text transform="translate(-1.41 0) scale(0.949 1)">c</text><text transform="translate(16.77 0) scale(1.005 1)">o</text><text transform="translate(37.27 0) scale(1.020 1)">u</text><text transform="translate(58.38 0) scale(1.020 1)">n</text><text transform="translate(78.94 0) scale(1.264 1)">t</text><text transform="translate(91.82 0) scale(1.212 1)">r</text><text transform="translate(106.18 0) scale(1.015 1)">y</text><text transform="translate(125.02 0) scale(0.843 1)">_</text><text transform="translate(141.89 0) scale(0.946 1)">X</text><text transform="translate(164.91 0) scale(0.941 1)">H</text></g>
<g class="ev" font-size="35.00" transform="translate(1847.67 997.00) rotate(-90)"><text transform="translate(-2.27 0) scale(0.971 1)">i</text><text transform="translate(6.73 0) scale(1.024 1)">n</text><text transform="translate(27.48 0) scale(1.032 1)">d</text><text transform="translate(48.48 0) scale(0.847 1)">_</text><text transform="translate(66.05 0) scale(0.971 1)">i</text><text transform="translate(75.05 0) scale(1.024 1)">n</text><text transform="translate(96.40 0) scale(0.911 1)">s</text><text transform="translate(113.31 0) scale(1.024 1)">u</text><text transform="translate(134.07 0) scale(1.217 1)">r</text><text transform="translate(148.32 0) scale(0.854 1)">a</text><text transform="translate(168.56 0) scale(1.024 1)">n</text><text transform="translate(189.41 0) scale(0.953 1)">c</text><text transform="translate(207.62 0) scale(1.026 1)">e</text></g>
<g class="od" font-size="35.00" transform="translate(1887.08 955.00) rotate(-90)"><text transform="translate(-1.41 0) scale(0.949 1)">c</text><text transform="translate(16.78 0) scale(1.006 1)">o</text><text transform="translate(37.29 0) scale(1.020 1)">u</text><text transform="translate(58.42 0) scale(1.020 1)">n</text><text transform="translate(79.00 0) scale(1.265 1)">t</text><text transform="translate(91.88 0) scale(1.212 1)">r</text><text transform="translate(106.26 0) scale(1.016 1)">y</text><text transform="translate(125.10 0) scale(0.844 1)">_</text><text transform="translate(142.29 0) scale(0.941 1)">H</text><text transform="translate(167.10 0) scale(0.954 1)">K</text></g>
<g class="ev" font-size="35.00" transform="translate(1927.49 1022.00) rotate(-90)"><text transform="translate(-2.27 0) scale(0.970 1)">i</text><text transform="translate(6.72 0) scale(1.023 1)">n</text><text transform="translate(27.45 0) scale(1.031 1)">d</text><text transform="translate(48.42 0) scale(0.846 1)">_</text><text transform="translate(65.83 0) scale(0.853 1)">a</text><text transform="translate(85.90 0) scale(1.023 1)">u</text><text transform="translate(106.67 0) scale(1.268 1)">t</text><text transform="translate(119.75 0) scale(1.009 1)">o</text><text transform="translate(140.32 0) scale(1.081 1)">m</text><text transform="translate(172.67 0) scale(1.009 1)">o</text><text transform="translate(193.43 0) scale(1.032 1)">b</text><text transform="translate(214.77 0) scale(0.970 1)">i</text><text transform="translate(223.97 0) scale(0.970 1)">l</text><text transform="translate(232.65 0) scale(1.025 1)">e</text></g>
<g class="od" font-size="35.00" transform="translate(1967.41 1176.00) rotate(-90)"><text transform="translate(-2.28 0) scale(0.972 1)">i</text><text transform="translate(6.74 0) scale(1.025 1)">n</text><text transform="translate(27.50 0) scale(1.033 1)">d</text><text transform="translate(48.52 0) scale(0.848 1)">_</text><text transform="translate(66.10 0) scale(0.972 1)">i</text><text transform="translate(75.12 0) scale(1.025 1)">n</text><text transform="translate(96.43 0) scale(1.026 1)">v</text><text transform="translate(115.59 0) scale(1.027 1)">e</text><text transform="translate(136.66 0) scale(0.911 1)">s</text><text transform="translate(153.31 0) scale(1.271 1)">t</text><text transform="translate(166.57 0) scale(1.083 1)">m</text><text transform="translate(198.94 0) scale(1.027 1)">e</text><text transform="translate(219.73 0) scale(1.025 1)">n</text><text transform="translate(240.40 0) scale(1.271 1)">t</text><text transform="translate(253.28 0) scale(0.848 1)">_</text><text transform="translate(270.92 0) scale(0.911 1)">s</text><text transform="translate(287.66 0) scale(1.027 1)">e</text><text transform="translate(308.00 0) scale(1.218 1)">r</text><text transform="translate(322.40 0) scale(1.026 1)">v</text><text transform="translate(342.11 0) scale(0.972 1)">i</text><text transform="translate(350.90 0) scale(0.954 1)">c</text><text transform="translate(369.13 0) scale(1.027 1)">e</text><text transform="translate(390.20 0) scale(0.911 1)">s</text></g>
<g class="ev" font-size="35.00" transform="translate(2007.32 1539.00) rotate(-90)"><text transform="translate(-2.28 0) scale(0.973 1)">i</text><text transform="translate(6.74 0) scale(1.026 1)">n</text><text transform="translate(27.53 0) scale(1.034 1)">d</text><text transform="translate(48.56 0) scale(0.849 1)">_</text><text transform="translate(65.72 0) scale(0.955 1)">c</text><text transform="translate(84.01 0) scale(1.012 1)">o</text><text transform="translate(104.64 0) scale(1.084 1)">m</text><text transform="translate(137.42 0) scale(1.035 1)">p</text><text transform="translate(158.46 0) scale(1.026 1)">u</text><text transform="translate(179.29 0) scale(1.272 1)">t</text><text transform="translate(192.36 0) scale(1.028 1)">e</text><text transform="translate(212.72 0) scale(1.219 1)">r</text><text transform="translate(227.19 0) scale(0.912 1)">s</text><text transform="translate(243.75 0) scale(0.849 1)">_</text><text transform="translate(261.18 0) scale(1.035 1)">p</text><text transform="translate(282.24 0) scale(1.033 1)">h</text><text transform="translate(303.17 0) scale(1.012 1)">o</text><text transform="translate(323.94 0) scale(1.026 1)">n</text><text transform="translate(344.72 0) scale(1.028 1)">e</text><text transform="translate(365.81 0) scale(0.912 1)">s</text><text transform="translate(382.37 0) scale(0.849 1)">_</text><text transform="translate(399.63 0) scale(1.033 1)">h</text><text transform="translate(420.56 0) scale(1.012 1)">o</text><text transform="translate(441.19 0) scale(1.026 1)">u</text><text transform="translate(462.72 0) scale(0.912 1)">s</text><text transform="translate(479.47 0) scale(1.028 1)">e</text><text transform="translate(500.16 0) scale(1.033 1)">h</text><text transform="translate(521.09 0) scale(1.012 1)">o</text><text transform="translate(542.07 0) scale(0.973 1)">l</text><text transform="translate(550.78 0) scale(1.034 1)">d</text><text transform="translate(571.82 0) scale(0.849 1)">_</text><text transform="translate(588.86 0) scale(1.028 1)">e</text><text transform="translate(609.88 0) scale(0.973 1)">l</text><text transform="translate(618.59 0) scale(1.028 1)">e</text><text transform="translate(639.18 0) scale(0.955 1)">c</text><text transform="translate(657.34 0) scale(1.272 1)">t</text><text transform="translate(670.29 0) scale(1.219 1)">r</text><text transform="translate(683.44 0) scale(1.012 1)">o</text><text transform="translate(704.21 0) scale(1.026 1)">n</text><text transform="translate(725.54 0) scale(0.973 1)">i</text><text transform="translate(734.34 0) scale(0.955 1)">c</text><text transform="translate(753.19 0) scale(0.912 1)">s</text></g>
<g class="od" font-size="35.00" transform="translate(2047.23 1110.00) rotate(-90)"><text transform="translate(-2.27 0) scale(0.970 1)">i</text><text transform="translate(6.73 0) scale(1.023 1)">n</text><text transform="translate(27.45 0) scale(1.031 1)">d</text><text transform="translate(48.43 0) scale(0.846 1)">_</text><text transform="translate(65.81 0) scale(1.032 1)">p</text><text transform="translate(86.81 0) scale(1.030 1)">h</text><text transform="translate(108.07 0) scale(0.853 1)">a</text><text transform="translate(127.84 0) scale(1.216 1)">r</text><text transform="translate(141.23 0) scale(1.081 1)">m</text><text transform="translate(173.96 0) scale(0.853 1)">a</text><text transform="translate(193.95 0) scale(0.952 1)">c</text><text transform="translate(212.15 0) scale(1.025 1)">e</text><text transform="translate(232.77 0) scale(1.023 1)">u</text><text transform="translate(253.54 0) scale(1.268 1)">t</text><text transform="translate(267.13 0) scale(0.970 1)">i</text><text transform="translate(275.91 0) scale(0.952 1)">c</text><text transform="translate(294.53 0) scale(0.853 1)">a</text><text transform="translate(314.94 0) scale(0.970 1)">l</text><text transform="translate(324.23 0) scale(0.910 1)">s</text></g>
<g class="ev" font-size="35.00" transform="translate(2087.14 902.00) rotate(-90)"><text transform="translate(-2.27 0) scale(0.968 1)">i</text><text transform="translate(6.71 0) scale(1.021 1)">n</text><text transform="translate(27.39 0) scale(1.029 1)">d</text><text transform="translate(48.33 0) scale(0.845 1)">_</text><text transform="translate(65.40 0) scale(0.950 1)">c</text><text transform="translate(83.61 0) scale(1.007 1)">o</text><text transform="translate(104.36 0) scale(0.852 1)">a</text><text transform="translate(124.74 0) scale(0.968 1)">l</text></g>
<g class="od" font-size="35.00" transform="translate(2127.05 1375.00) rotate(-90)"><text transform="translate(-2.28 0) scale(0.973 1)">i</text><text transform="translate(6.74 0) scale(1.026 1)">n</text><text transform="translate(27.52 0) scale(1.034 1)">d</text><text transform="translate(48.56 0) scale(0.849 1)">_</text><text transform="translate(65.81 0) scale(1.033 1)">h</text><text transform="translate(86.75 0) scale(1.011 1)">o</text><text transform="translate(107.38 0) scale(1.084 1)">m</text><text transform="translate(139.78 0) scale(1.028 1)">e</text><text transform="translate(160.64 0) scale(1.035 1)">b</text><text transform="translate(181.68 0) scale(1.026 1)">u</text><text transform="translate(203.14 0) scale(0.973 1)">i</text><text transform="translate(212.37 0) scale(0.973 1)">l</text><text transform="translate(221.08 0) scale(1.034 1)">d</text><text transform="translate(242.86 0) scale(0.973 1)">i</text><text transform="translate(251.88 0) scale(1.026 1)">n</text><text transform="translate(272.66 0) scale(1.034 1)">g</text><text transform="translate(293.69 0) scale(0.849 1)">_</text><text transform="translate(311.12 0) scale(1.035 1)">b</text><text transform="translate(332.15 0) scale(1.026 1)">u</text><text transform="translate(353.62 0) scale(0.973 1)">i</text><text transform="translate(362.85 0) scale(0.973 1)">l</text><text transform="translate(371.56 0) scale(1.034 1)">d</text><text transform="translate(393.33 0) scale(0.973 1)">i</text><text transform="translate(402.35 0) scale(1.026 1)">n</text><text transform="translate(423.13 0) scale(1.034 1)">g</text><text transform="translate(444.17 0) scale(0.849 1)">_</text><text transform="translate(461.59 0) scale(1.035 1)">p</text><text transform="translate(482.32 0) scale(1.219 1)">r</text><text transform="translate(495.47 0) scale(1.011 1)">o</text><text transform="translate(515.92 0) scale(1.034 1)">d</text><text transform="translate(537.33 0) scale(1.026 1)">u</text><text transform="translate(558.35 0) scale(0.955 1)">c</text><text transform="translate(576.51 0) scale(1.272 1)">t</text><text transform="translate(590.19 0) scale(0.912 1)">s</text></g>
<g class="ev" font-size="35.00" transform="translate(2166.96 1099.00) rotate(-90)"><text transform="translate(-2.27 0) scale(0.971 1)">i</text><text transform="translate(6.73 0) scale(1.024 1)">n</text><text transform="translate(27.48 0) scale(1.032 1)">d</text><text transform="translate(48.48 0) scale(0.847 1)">_</text><text transform="translate(66.11 0) scale(0.911 1)">s</text><text transform="translate(82.83 0) scale(1.026 1)">e</text><text transform="translate(103.47 0) scale(1.082 1)">m</text><text transform="translate(136.37 0) scale(0.971 1)">i</text><text transform="translate(145.15 0) scale(0.953 1)">c</text><text transform="translate(163.41 0) scale(1.010 1)">o</text><text transform="translate(184.15 0) scale(1.024 1)">n</text><text transform="translate(204.90 0) scale(1.032 1)">d</text><text transform="translate(226.27 0) scale(1.024 1)">u</text><text transform="translate(247.26 0) scale(0.953 1)">c</text><text transform="translate(265.39 0) scale(1.270 1)">t</text><text transform="translate(278.49 0) scale(1.010 1)">o</text><text transform="translate(298.78 0) scale(1.217 1)">r</text><text transform="translate(313.22 0) scale(0.911 1)">s</text></g>
<g class="od" font-size="35.00" transform="translate(2206.87 1323.00) rotate(-90)"><text transform="translate(-2.28 0) scale(0.972 1)">i</text><text transform="translate(6.74 0) scale(1.025 1)">n</text><text transform="translate(27.50 0) scale(1.033 1)">d</text><text transform="translate(48.52 0) scale(0.848 1)">_</text><text transform="translate(65.76 0) scale(1.032 1)">h</text><text transform="translate(86.68 0) scale(1.011 1)">o</text><text transform="translate(107.29 0) scale(1.025 1)">u</text><text transform="translate(128.80 0) scale(0.911 1)">s</text><text transform="translate(145.54 0) scale(1.027 1)">e</text><text transform="translate(166.21 0) scale(1.032 1)">h</text><text transform="translate(187.13 0) scale(1.011 1)">o</text><text transform="translate(208.09 0) scale(0.972 1)">l</text><text transform="translate(216.79 0) scale(1.033 1)">d</text><text transform="translate(237.81 0) scale(0.848 1)">_</text><text transform="translate(255.22 0) scale(1.034 1)">p</text><text transform="translate(275.94 0) scale(1.218 1)">r</text><text transform="translate(289.08 0) scale(1.011 1)">o</text><text transform="translate(309.51 0) scale(1.033 1)">d</text><text transform="translate(330.90 0) scale(1.025 1)">u</text><text transform="translate(351.91 0) scale(0.954 1)">c</text><text transform="translate(370.05 0) scale(1.271 1)">t</text><text transform="translate(383.72 0) scale(0.911 1)">s</text><text transform="translate(400.28 0) scale(0.848 1)">_</text><text transform="translate(417.91 0) scale(0.911 1)">s</text><text transform="translate(434.65 0) scale(1.027 1)">e</text><text transform="translate(455.00 0) scale(1.218 1)">r</text><text transform="translate(469.40 0) scale(1.026 1)">v</text><text transform="translate(489.11 0) scale(0.972 1)">i</text><text transform="translate(497.90 0) scale(0.954 1)">c</text><text transform="translate(516.13 0) scale(1.027 1)">e</text><text transform="translate(537.20 0) scale(0.911 1)">s</text></g>
<g class="ev" font-size="35.00" transform="translate(2246.78 1085.00) rotate(-90)"><text transform="translate(-2.27 0) scale(0.972 1)">i</text><text transform="translate(6.74 0) scale(1.025 1)">n</text><text transform="translate(27.50 0) scale(1.033 1)">d</text><text transform="translate(48.51 0) scale(0.848 1)">_</text><text transform="translate(66.15 0) scale(0.911 1)">s</text><text transform="translate(83.26 0) scale(1.034 1)">p</text><text transform="translate(104.09 0) scale(1.027 1)">e</text><text transform="translate(124.66 0) scale(0.954 1)">c</text><text transform="translate(143.44 0) scale(0.972 1)">i</text><text transform="translate(152.54 0) scale(0.855 1)">a</text><text transform="translate(172.99 0) scale(0.972 1)">l</text><text transform="translate(181.59 0) scale(1.270 1)">t</text><text transform="translate(195.25 0) scale(1.021 1)">y</text><text transform="translate(214.18 0) scale(0.848 1)">_</text><text transform="translate(231.09 0) scale(1.218 1)">r</text><text transform="translate(244.18 0) scale(1.027 1)">e</text><text transform="translate(265.06 0) scale(0.855 1)">a</text><text transform="translate(284.89 0) scale(1.270 1)">t</text><text transform="translate(298.50 0) scale(0.972 1)">i</text><text transform="translate(307.72 0) scale(0.972 1)">l</text></g>
<g class="od" font-size="35.00" transform="translate(2286.69 1096.00) rotate(-90)"><text transform="translate(-2.27 0) scale(0.970 1)">i</text><text transform="translate(6.73 0) scale(1.023 1)">n</text><text transform="translate(27.46 0) scale(1.032 1)">d</text><text transform="translate(48.44 0) scale(0.847 1)">_</text><text transform="translate(65.28 0) scale(1.246 1)">f</text><text transform="translate(77.04 0) scale(1.216 1)">r</text><text transform="translate(90.11 0) scale(1.025 1)">e</text><text transform="translate(111.10 0) scale(0.970 1)">i</text><text transform="translate(119.77 0) scale(1.032 1)">g</text><text transform="translate(141.15 0) scale(1.030 1)">h</text><text transform="translate(161.91 0) scale(1.269 1)">t</text><text transform="translate(174.77 0) scale(0.847 1)">_</text><text transform="translate(192.30 0) scale(0.970 1)">l</text><text transform="translate(201.03 0) scale(1.009 1)">o</text><text transform="translate(221.43 0) scale(1.032 1)">g</text><text transform="translate(243.15 0) scale(0.970 1)">i</text><text transform="translate(252.42 0) scale(0.910 1)">s</text><text transform="translate(269.05 0) scale(1.269 1)">t</text><text transform="translate(282.64 0) scale(0.970 1)">i</text><text transform="translate(291.42 0) scale(0.952 1)">c</text><text transform="translate(310.23 0) scale(0.910 1)">s</text></g>
<g class="ev" font-size="35.00" transform="translate(2326.60 1214.00) rotate(-90)"><text transform="translate(-2.28 0) scale(0.972 1)">i</text><text transform="translate(6.74 0) scale(1.025 1)">n</text><text transform="translate(27.51 0) scale(1.034 1)">d</text><text transform="translate(48.54 0) scale(0.848 1)">_</text><text transform="translate(65.69 0) scale(0.954 1)">c</text><text transform="translate(83.97 0) scale(1.011 1)">o</text><text transform="translate(104.73 0) scale(1.025 1)">n</text><text transform="translate(126.11 0) scale(0.912 1)">s</text><text transform="translate(142.76 0) scale(1.271 1)">t</text><text transform="translate(155.72 0) scale(1.219 1)">r</text><text transform="translate(169.75 0) scale(1.025 1)">u</text><text transform="translate(190.77 0) scale(0.954 1)">c</text><text transform="translate(208.92 0) scale(1.271 1)">t</text><text transform="translate(222.55 0) scale(0.972 1)">i</text><text transform="translate(231.27 0) scale(1.011 1)">o</text><text transform="translate(252.04 0) scale(1.025 1)">n</text><text transform="translate(272.62 0) scale(0.848 1)">_</text><text transform="translate(289.85 0) scale(1.084 1)">m</text><text transform="translate(322.65 0) scale(0.855 1)">a</text><text transform="translate(342.49 0) scale(1.271 1)">t</text><text transform="translate(355.56 0) scale(1.027 1)">e</text><text transform="translate(375.92 0) scale(1.219 1)">r</text><text transform="translate(390.32 0) scale(0.972 1)">i</text><text transform="translate(399.42 0) scale(0.855 1)">a</text><text transform="translate(419.89 0) scale(0.972 1)">l</text><text transform="translate(429.20 0) scale(0.912 1)">s</text></g>
<g class="od" font-size="35.00" transform="translate(2366.01 958.00) rotate(-90)"><text transform="translate(-1.41 0) scale(0.946 1)">c</text><text transform="translate(16.73 0) scale(1.003 1)">o</text><text transform="translate(37.17 0) scale(1.017 1)">u</text><text transform="translate(58.24 0) scale(1.017 1)">n</text><text transform="translate(78.75 0) scale(1.261 1)">t</text><text transform="translate(91.59 0) scale(1.209 1)">r</text><text transform="translate(105.92 0) scale(1.013 1)">y</text><text transform="translate(124.70 0) scale(0.841 1)">_</text><text transform="translate(141.83 0) scale(0.941 1)">M</text><text transform="translate(168.99 0) scale(0.931 1)">Y</text></g>
<g class="ev" font-size="35.00" transform="translate(2406.93 856.00) rotate(-90)"><text transform="translate(-2.34 0) scale(1.039 1)">b</text><text transform="translate(18.70 0) scale(0.958 1)">c</text><text transform="translate(37.06 0) scale(1.015 1)">o</text><text transform="translate(58.19 0) scale(0.916 1)">s</text><text transform="translate(74.91 0) scale(1.277 1)">t</text></g>
<g class="od" font-size="35.00" transform="translate(2446.34 973.00) rotate(-90)"><text transform="translate(-2.27 0) scale(0.970 1)">i</text><text transform="translate(6.72 0) scale(1.023 1)">n</text><text transform="translate(27.45 0) scale(1.031 1)">d</text><text transform="translate(48.43 0) scale(0.846 1)">_</text><text transform="translate(65.61 0) scale(1.023 1)">u</text><text transform="translate(86.35 0) scale(1.216 1)">r</text><text transform="translate(100.59 0) scale(0.853 1)">a</text><text transform="translate(120.80 0) scale(1.023 1)">n</text><text transform="translate(142.07 0) scale(0.970 1)">i</text><text transform="translate(150.92 0) scale(1.023 1)">u</text><text transform="translate(171.97 0) scale(1.081 1)">m</text></g>
<g class="ev" font-size="35.00" transform="translate(2486.25 1341.00) rotate(-90)"><text transform="translate(-2.28 0) scale(0.973 1)">i</text><text transform="translate(6.74 0) scale(1.026 1)">n</text><text transform="translate(27.53 0) scale(1.034 1)">d</text><text transform="translate(48.57 0) scale(0.849 1)">_</text><text transform="translate(66.17 0) scale(0.973 1)">i</text><text transform="translate(75.19 0) scale(1.026 1)">n</text><text transform="translate(95.88 0) scale(1.272 1)">t</text><text transform="translate(108.95 0) scale(1.028 1)">e</text><text transform="translate(129.45 0) scale(1.034 1)">g</text><text transform="translate(150.55 0) scale(1.219 1)">r</text><text transform="translate(164.83 0) scale(0.856 1)">a</text><text transform="translate(184.68 0) scale(1.272 1)">t</text><text transform="translate(197.76 0) scale(1.028 1)">e</text><text transform="translate(218.25 0) scale(1.034 1)">d</text><text transform="translate(239.29 0) scale(0.849 1)">_</text><text transform="translate(256.54 0) scale(1.033 1)">h</text><text transform="translate(277.86 0) scale(0.856 1)">a</text><text transform="translate(297.68 0) scale(1.219 1)">r</text><text transform="translate(310.92 0) scale(1.034 1)">d</text><text transform="translate(333.28 0) scale(0.962 1)">w</text><text transform="translate(359.79 0) scale(0.856 1)">a</text><text transform="translate(379.61 0) scale(1.219 1)">r</text><text transform="translate(392.72 0) scale(1.028 1)">e</text><text transform="translate(413.02 0) scale(0.849 1)">_</text><text transform="translate(430.67 0) scale(0.912 1)">s</text><text transform="translate(447.47 0) scale(1.012 1)">o</text><text transform="translate(467.75 0) scale(1.250 1)">f</text><text transform="translate(478.94 0) scale(1.272 1)">t</text><text transform="translate(493.15 0) scale(0.962 1)">w</text><text transform="translate(519.66 0) scale(0.856 1)">a</text><text transform="translate(539.48 0) scale(1.219 1)">r</text><text transform="translate(552.59 0) scale(1.028 1)">e</text></g>
<g class="od" font-size="35.00" transform="translate(2526.16 1001.00) rotate(-90)"><text transform="translate(-2.27 0) scale(0.969 1)">i</text><text transform="translate(6.72 0) scale(1.022 1)">n</text><text transform="translate(27.44 0) scale(1.031 1)">d</text><text transform="translate(48.40 0) scale(0.846 1)">_</text><text transform="translate(65.50 0) scale(0.952 1)">c</text><text transform="translate(83.90 0) scale(1.030 1)">h</text><text transform="translate(104.73 0) scale(1.024 1)">e</text><text transform="translate(125.33 0) scale(1.081 1)">m</text><text transform="translate(158.18 0) scale(0.969 1)">i</text><text transform="translate(166.95 0) scale(0.952 1)">c</text><text transform="translate(185.55 0) scale(0.853 1)">a</text><text transform="translate(205.96 0) scale(0.969 1)">l</text><text transform="translate(215.24 0) scale(0.909 1)">s</text></g>
<g class="ev" font-size="35.00" transform="translate(2566.07 1123.00) rotate(-90)"><text transform="translate(-2.27 0) scale(0.970 1)">i</text><text transform="translate(6.73 0) scale(1.023 1)">n</text><text transform="translate(27.45 0) scale(1.031 1)">d</text><text transform="translate(48.44 0) scale(0.846 1)">_</text><text transform="translate(65.48 0) scale(1.009 1)">o</text><text transform="translate(85.70 0) scale(1.246 1)">f</text><text transform="translate(97.41 0) scale(1.246 1)">f</text><text transform="translate(109.83 0) scale(0.970 1)">i</text><text transform="translate(118.61 0) scale(0.952 1)">c</text><text transform="translate(136.81 0) scale(1.025 1)">e</text><text transform="translate(157.05 0) scale(0.846 1)">_</text><text transform="translate(174.05 0) scale(1.025 1)">e</text><text transform="translate(194.49 0) scale(1.030 1)">q</text><text transform="translate(215.84 0) scale(1.023 1)">u</text><text transform="translate(237.25 0) scale(0.970 1)">i</text><text transform="translate(246.30 0) scale(1.032 1)">p</text><text transform="translate(267.29 0) scale(1.081 1)">m</text><text transform="translate(299.60 0) scale(1.025 1)">e</text><text transform="translate(320.36 0) scale(1.023 1)">n</text><text transform="translate(340.99 0) scale(1.268 1)">t</text></g>
<g class="od" font-size="35.00" transform="translate(2605.98 1070.00) rotate(-90)"><text transform="translate(-2.27 0) scale(0.971 1)">i</text><text transform="translate(6.73 0) scale(1.024 1)">n</text><text transform="translate(27.49 0) scale(1.033 1)">d</text><text transform="translate(48.49 0) scale(0.847 1)">_</text><text transform="translate(65.89 0) scale(1.034 1)">b</text><text transform="translate(87.26 0) scale(0.971 1)">i</text><text transform="translate(95.98 0) scale(1.010 1)">o</text><text transform="translate(116.30 0) scale(1.270 1)">t</text><text transform="translate(129.36 0) scale(1.026 1)">e</text><text transform="translate(149.92 0) scale(0.953 1)">c</text><text transform="translate(168.35 0) scale(1.031 1)">h</text><text transform="translate(189.55 0) scale(1.024 1)">n</text><text transform="translate(210.33 0) scale(1.010 1)">o</text><text transform="translate(231.28 0) scale(0.971 1)">l</text><text transform="translate(240.01 0) scale(1.010 1)">o</text><text transform="translate(260.43 0) scale(1.033 1)">g</text><text transform="translate(282.21 0) scale(1.020 1)">y</text></g>
<g class="ev" font-size="35.00" transform="translate(2645.89 1104.00) rotate(-90)"><text transform="translate(-2.27 0) scale(0.971 1)">i</text><text transform="translate(6.73 0) scale(1.025 1)">n</text><text transform="translate(27.49 0) scale(1.033 1)">d</text><text transform="translate(48.50 0) scale(0.847 1)">_</text><text transform="translate(65.36 0) scale(1.248 1)">f</text><text transform="translate(77.29 0) scale(1.010 1)">o</text><text transform="translate(97.74 0) scale(1.010 1)">o</text><text transform="translate(118.16 0) scale(1.033 1)">d</text><text transform="translate(139.17 0) scale(0.847 1)">_</text><text transform="translate(156.20 0) scale(1.033 1)">d</text><text transform="translate(177.28 0) scale(1.218 1)">r</text><text transform="translate(191.30 0) scale(1.025 1)">u</text><text transform="translate(212.20 0) scale(1.033 1)">g</text><text transform="translate(233.21 0) scale(0.847 1)">_</text><text transform="translate(250.11 0) scale(1.218 1)">r</text><text transform="translate(263.20 0) scale(1.026 1)">e</text><text transform="translate(283.57 0) scale(1.270 1)">t</text><text transform="translate(297.05 0) scale(0.855 1)">a</text><text transform="translate(317.51 0) scale(0.971 1)">i</text><text transform="translate(326.72 0) scale(0.971 1)">l</text></g>
<g class="od" font-size="35.00" transform="translate(2685.30 954.00) rotate(-90)"><text transform="translate(-1.41 0) scale(0.951 1)">c</text><text transform="translate(16.81 0) scale(1.008 1)">o</text><text transform="translate(37.37 0) scale(1.022 1)">u</text><text transform="translate(58.54 0) scale(1.022 1)">n</text><text transform="translate(79.15 0) scale(1.267 1)">t</text><text transform="translate(92.06 0) scale(1.215 1)">r</text><text transform="translate(106.46 0) scale(1.018 1)">y</text><text transform="translate(125.35 0) scale(0.846 1)">_</text><text transform="translate(141.11 0) scale(1.034 1)">T</text><text transform="translate(162.85 0) scale(0.943 1)">H</text></g>
<g class="ev" font-size="35.00" transform="translate(2725.21 956.00) rotate(-90)"><text transform="translate(-1.41 0) scale(0.950 1)">c</text><text transform="translate(16.80 0) scale(1.007 1)">o</text><text transform="translate(37.33 0) scale(1.021 1)">u</text><text transform="translate(58.49 0) scale(1.021 1)">n</text><text transform="translate(79.08 0) scale(1.266 1)">t</text><text transform="translate(91.98 0) scale(1.214 1)">r</text><text transform="translate(106.37 0) scale(1.017 1)">y</text><text transform="translate(125.23 0) scale(0.845 1)">_</text><text transform="translate(142.74 0) scale(0.844 1)">S</text><text transform="translate(163.26 0) scale(0.924 1)">G</text></g>
<g class="od" font-size="35.00" transform="translate(2765.62 1338.00) rotate(-90)"><text transform="translate(-2.28 0) scale(0.973 1)">i</text><text transform="translate(6.74 0) scale(1.026 1)">n</text><text transform="translate(27.52 0) scale(1.034 1)">d</text><text transform="translate(48.56 0) scale(0.849 1)">_</text><text transform="translate(65.81 0) scale(1.033 1)">h</text><text transform="translate(86.70 0) scale(1.028 1)">e</text><text transform="translate(107.60 0) scale(0.856 1)">a</text><text transform="translate(128.07 0) scale(0.973 1)">l</text><text transform="translate(136.69 0) scale(1.272 1)">t</text><text transform="translate(149.97 0) scale(1.033 1)">h</text><text transform="translate(170.97 0) scale(0.955 1)">c</text><text transform="translate(189.64 0) scale(0.856 1)">a</text><text transform="translate(209.45 0) scale(1.219 1)">r</text><text transform="translate(222.56 0) scale(1.028 1)">e</text><text transform="translate(242.85 0) scale(0.849 1)">_</text><text transform="translate(260.27 0) scale(1.035 1)">p</text><text transform="translate(281.00 0) scale(1.219 1)">r</text><text transform="translate(294.15 0) scale(1.011 1)">o</text><text transform="translate(315.15 0) scale(1.027 1)">v</text><text transform="translate(334.87 0) scale(0.973 1)">i</text><text transform="translate(343.57 0) scale(1.034 1)">d</text><text transform="translate(364.78 0) scale(1.028 1)">e</text><text transform="translate(385.14 0) scale(1.219 1)">r</text><text transform="translate(399.61 0) scale(0.912 1)">s</text><text transform="translate(416.17 0) scale(0.849 1)">_</text><text transform="translate(433.82 0) scale(0.912 1)">s</text><text transform="translate(450.57 0) scale(1.028 1)">e</text><text transform="translate(470.93 0) scale(1.219 1)">r</text><text transform="translate(485.34 0) scale(1.027 1)">v</text><text transform="translate(505.06 0) scale(0.973 1)">i</text><text transform="translate(513.86 0) scale(0.955 1)">c</text><text transform="translate(532.11 0) scale(1.028 1)">e</text><text transform="translate(553.19 0) scale(0.912 1)">s</text></g>
<g class="ev" font-size="35.00" transform="translate(2805.54 1196.00) rotate(-90)"><text transform="translate(-2.27 0) scale(0.971 1)">i</text><text transform="translate(6.73 0) scale(1.024 1)">n</text><text transform="translate(27.47 0) scale(1.032 1)">d</text><text transform="translate(48.46 0) scale(0.847 1)">_</text><text transform="translate(66.02 0) scale(0.971 1)">i</text><text transform="translate(75.02 0) scale(1.024 1)">n</text><text transform="translate(95.76 0) scale(1.032 1)">d</text><text transform="translate(117.13 0) scale(1.024 1)">u</text><text transform="translate(138.61 0) scale(0.910 1)">s</text><text transform="translate(155.24 0) scale(1.269 1)">t</text><text transform="translate(168.17 0) scale(1.217 1)">r</text><text transform="translate(182.55 0) scale(0.971 1)">i</text><text transform="translate(191.63 0) scale(0.854 1)">a</text><text transform="translate(212.06 0) scale(0.971 1)">l</text><text transform="translate(220.57 0) scale(0.847 1)">_</text><text transform="translate(237.59 0) scale(1.032 1)">d</text><text transform="translate(259.31 0) scale(0.971 1)">i</text><text transform="translate(268.59 0) scale(0.910 1)">s</text><text transform="translate(285.22 0) scale(1.269 1)">t</text><text transform="translate(298.15 0) scale(1.217 1)">r</text><text transform="translate(312.53 0) scale(0.971 1)">i</text><text transform="translate(321.58 0) scale(1.033 1)">b</text><text transform="translate(342.57 0) scale(1.024 1)">u</text><text transform="translate(363.36 0) scale(1.269 1)">t</text><text transform="translate(376.96 0) scale(0.971 1)">i</text><text transform="translate(385.67 0) scale(1.009 1)">o</text><text transform="translate(406.40 0) scale(1.024 1)">n</text></g>
<g class="od" font-size="35.00" transform="translate(2845.45 1057.00) rotate(-90)"><text transform="translate(-2.27 0) scale(0.971 1)">i</text><text transform="translate(6.73 0) scale(1.024 1)">n</text><text transform="translate(27.49 0) scale(1.033 1)">d</text><text transform="translate(48.49 0) scale(0.847 1)">_</text><text transform="translate(65.35 0) scale(1.248 1)">f</text><text transform="translate(77.28 0) scale(1.010 1)">o</text><text transform="translate(97.73 0) scale(1.010 1)">o</text><text transform="translate(118.15 0) scale(1.033 1)">d</text><text transform="translate(139.15 0) scale(0.847 1)">_</text><text transform="translate(156.08 0) scale(1.270 1)">t</text><text transform="translate(169.18 0) scale(1.010 1)">o</text><text transform="translate(189.97 0) scale(1.034 1)">b</text><text transform="translate(211.21 0) scale(0.854 1)">a</text><text transform="translate(231.23 0) scale(0.953 1)">c</text><text transform="translate(249.56 0) scale(0.953 1)">c</text><text transform="translate(267.82 0) scale(1.010 1)">o</text></g>
<g class="ev" font-size="35.00" transform="translate(2885.36 1078.00) rotate(-90)"><text transform="translate(-2.27 0) scale(0.971 1)">i</text><text transform="translate(6.73 0) scale(1.024 1)">n</text><text transform="translate(27.47 0) scale(1.032 1)">d</text><text transform="translate(48.47 0) scale(0.847 1)">_</text><text transform="translate(65.68 0) scale(1.082 1)">m</text><text transform="translate(98.02 0) scale(1.026 1)">e</text><text transform="translate(118.37 0) scale(1.269 1)">t</text><text transform="translate(131.84 0) scale(0.854 1)">a</text><text transform="translate(152.27 0) scale(0.971 1)">l</text><text transform="translate(161.57 0) scale(0.910 1)">s</text><text transform="translate(178.10 0) scale(0.847 1)">_</text><text transform="translate(195.31 0) scale(1.082 1)">m</text><text transform="translate(228.20 0) scale(0.971 1)">i</text><text transform="translate(237.20 0) scale(1.024 1)">n</text><text transform="translate(258.49 0) scale(0.971 1)">i</text><text transform="translate(267.49 0) scale(1.024 1)">n</text><text transform="translate(288.24 0) scale(1.032 1)">g</text></g>
<g class="od" font-size="35.00" transform="translate(2925.27 1262.00) rotate(-90)"><text transform="translate(-2.27 0) scale(0.971 1)">i</text><text transform="translate(6.73 0) scale(1.024 1)">n</text><text transform="translate(27.48 0) scale(1.032 1)">d</text><text transform="translate(48.48 0) scale(0.847 1)">_</text><text transform="translate(65.88 0) scale(1.033 1)">p</text><text transform="translate(87.11 0) scale(0.854 1)">a</text><text transform="translate(107.62 0) scale(0.911 1)">s</text><text transform="translate(124.95 0) scale(0.911 1)">s</text><text transform="translate(141.67 0) scale(1.026 1)">e</text><text transform="translate(162.45 0) scale(1.024 1)">n</text><text transform="translate(183.20 0) scale(1.032 1)">g</text><text transform="translate(204.39 0) scale(1.026 1)">e</text><text transform="translate(224.71 0) scale(1.217 1)">r</text><text transform="translate(238.36 0) scale(0.847 1)">_</text><text transform="translate(255.29 0) scale(1.270 1)">t</text><text transform="translate(268.23 0) scale(1.217 1)">r</text><text transform="translate(282.48 0) scale(0.854 1)">a</text><text transform="translate(302.71 0) scale(1.024 1)">n</text><text transform="translate(324.06 0) scale(0.911 1)">s</text><text transform="translate(341.16 0) scale(1.033 1)">p</text><text transform="translate(362.02 0) scale(1.010 1)">o</text><text transform="translate(382.30 0) scale(1.217 1)">r</text><text transform="translate(396.05 0) scale(1.270 1)">t</text><text transform="translate(409.52 0) scale(0.854 1)">a</text><text transform="translate(429.33 0) scale(1.270 1)">t</text><text transform="translate(442.94 0) scale(0.971 1)">i</text><text transform="translate(451.66 0) scale(1.010 1)">o</text><text transform="translate(472.39 0) scale(1.024 1)">n</text></g>
<g class="ev" font-size="35.00" transform="translate(2965.18 1195.00) rotate(-90)"><text transform="translate(-2.27 0) scale(0.971 1)">i</text><text transform="translate(6.73 0) scale(1.024 1)">n</text><text transform="translate(27.49 0) scale(1.033 1)">d</text><text transform="translate(48.49 0) scale(0.847 1)">_</text><text transform="translate(65.51 0) scale(1.026 1)">e</text><text transform="translate(86.50 0) scale(0.971 1)">l</text><text transform="translate(95.19 0) scale(1.026 1)">e</text><text transform="translate(115.75 0) scale(0.953 1)">c</text><text transform="translate(133.89 0) scale(1.270 1)">t</text><text transform="translate(146.83 0) scale(1.217 1)">r</text><text transform="translate(159.96 0) scale(1.010 1)">o</text><text transform="translate(180.70 0) scale(1.024 1)">n</text><text transform="translate(201.99 0) scale(0.971 1)">i</text><text transform="translate(210.78 0) scale(0.953 1)">c</text><text transform="translate(228.82 0) scale(0.847 1)">_</text><text transform="translate(245.84 0) scale(1.026 1)">e</text><text transform="translate(266.30 0) scale(1.032 1)">q</text><text transform="translate(287.68 0) scale(1.024 1)">u</text><text transform="translate(309.11 0) scale(0.971 1)">i</text><text transform="translate(318.17 0) scale(1.034 1)">p</text><text transform="translate(339.19 0) scale(1.083 1)">m</text><text transform="translate(371.54 0) scale(1.026 1)">e</text><text transform="translate(392.32 0) scale(1.024 1)">n</text><text transform="translate(412.98 0) scale(1.270 1)">t</text></g>
<g class="od" font-size="35.00" transform="translate(3004.59 962.00) rotate(-90)"><text transform="translate(-1.41 0) scale(0.951 1)">c</text><text transform="translate(16.81 0) scale(1.008 1)">o</text><text transform="translate(37.36 0) scale(1.022 1)">u</text><text transform="translate(58.53 0) scale(1.022 1)">n</text><text transform="translate(79.14 0) scale(1.267 1)">t</text><text transform="translate(92.05 0) scale(1.215 1)">r</text><text transform="translate(106.45 0) scale(1.018 1)">y</text><text transform="translate(125.33 0) scale(0.845 1)">_</text><text transform="translate(141.09 0) scale(1.034 1)">T</text><text transform="translate(163.24 0) scale(0.935 1)">W</text></g>
<g class="ev" font-size="35.00" transform="translate(3045.00 1258.00) rotate(-90)"><text transform="translate(-2.28 0) scale(0.973 1)">i</text><text transform="translate(6.75 0) scale(1.026 1)">n</text><text transform="translate(27.54 0) scale(1.035 1)">d</text><text transform="translate(48.58 0) scale(0.849 1)">_</text><text transform="translate(65.74 0) scale(0.955 1)">c</text><text transform="translate(84.04 0) scale(1.012 1)">o</text><text transform="translate(104.82 0) scale(1.026 1)">n</text><text transform="translate(126.21 0) scale(0.912 1)">s</text><text transform="translate(142.88 0) scale(1.272 1)">t</text><text transform="translate(155.85 0) scale(1.220 1)">r</text><text transform="translate(169.90 0) scale(1.026 1)">u</text><text transform="translate(190.93 0) scale(0.955 1)">c</text><text transform="translate(209.10 0) scale(1.272 1)">t</text><text transform="translate(222.74 0) scale(0.973 1)">i</text><text transform="translate(231.47 0) scale(1.012 1)">o</text><text transform="translate(252.25 0) scale(1.026 1)">n</text><text transform="translate(272.85 0) scale(0.849 1)">_</text><text transform="translate(289.90 0) scale(1.028 1)">e</text><text transform="translate(310.72 0) scale(1.026 1)">n</text><text transform="translate(331.51 0) scale(1.035 1)">g</text><text transform="translate(353.30 0) scale(0.973 1)">i</text><text transform="translate(362.32 0) scale(1.026 1)">n</text><text transform="translate(383.10 0) scale(1.028 1)">e</text><text transform="translate(403.59 0) scale(1.028 1)">e</text><text transform="translate(423.97 0) scale(1.220 1)">r</text><text transform="translate(438.38 0) scale(0.973 1)">i</text><text transform="translate(447.40 0) scale(1.026 1)">n</text><text transform="translate(468.20 0) scale(1.035 1)">g</text></g>
<g class="od" font-size="35.00" transform="translate(3084.91 1300.00) rotate(-90)"><text transform="translate(-2.28 0) scale(0.972 1)">i</text><text transform="translate(6.74 0) scale(1.025 1)">n</text><text transform="translate(27.51 0) scale(1.033 1)">d</text><text transform="translate(48.53 0) scale(0.848 1)">_</text><text transform="translate(65.60 0) scale(1.011 1)">o</text><text transform="translate(86.58 0) scale(0.972 1)">i</text><text transform="translate(95.80 0) scale(0.972 1)">l</text><text transform="translate(104.32 0) scale(0.848 1)">_</text><text transform="translate(121.36 0) scale(1.033 1)">g</text><text transform="translate(142.98 0) scale(0.855 1)">a</text><text transform="translate(163.51 0) scale(0.911 1)">s</text><text transform="translate(180.07 0) scale(0.848 1)">_</text><text transform="translate(197.10 0) scale(1.027 1)">e</text><text transform="translate(217.58 0) scale(1.032 1)">q</text><text transform="translate(238.97 0) scale(1.025 1)">u</text><text transform="translate(260.43 0) scale(0.972 1)">i</text><text transform="translate(269.49 0) scale(1.034 1)">p</text><text transform="translate(290.52 0) scale(1.083 1)">m</text><text transform="translate(322.90 0) scale(1.027 1)">e</text><text transform="translate(343.70 0) scale(1.025 1)">n</text><text transform="translate(364.37 0) scale(1.271 1)">t</text><text transform="translate(377.25 0) scale(0.848 1)">_</text><text transform="translate(394.89 0) scale(0.911 1)">s</text><text transform="translate(411.63 0) scale(1.027 1)">e</text><text transform="translate(431.98 0) scale(1.218 1)">r</text><text transform="translate(446.39 0) scale(1.026 1)">v</text><text transform="translate(466.10 0) scale(0.972 1)">i</text><text transform="translate(474.89 0) scale(0.954 1)">c</text><text transform="translate(493.13 0) scale(1.027 1)">e</text><text transform="translate(514.20 0) scale(0.911 1)">s</text></g>
<g class="ev" font-size="35.00" transform="translate(3124.32 954.00) rotate(-90)"><text transform="translate(-1.41 0) scale(0.947 1)">c</text><text transform="translate(16.73 0) scale(1.003 1)">o</text><text transform="translate(37.18 0) scale(1.017 1)">u</text><text transform="translate(58.25 0) scale(1.017 1)">n</text><text transform="translate(78.77 0) scale(1.261 1)">t</text><text transform="translate(91.62 0) scale(1.209 1)">r</text><text transform="translate(105.95 0) scale(1.013 1)">y</text><text transform="translate(124.74 0) scale(0.842 1)">_</text><text transform="translate(141.84 0) scale(0.952 1)">K</text><text transform="translate(163.66 0) scale(0.902 1)">R</text></g>
<g class="od" font-size="35.00" transform="translate(3164.23 954.00) rotate(-90)"><text transform="translate(-1.41 0) scale(0.947 1)">c</text><text transform="translate(16.74 0) scale(1.004 1)">o</text><text transform="translate(37.21 0) scale(1.018 1)">u</text><text transform="translate(58.30 0) scale(1.018 1)">n</text><text transform="translate(78.83 0) scale(1.262 1)">t</text><text transform="translate(91.69 0) scale(1.210 1)">r</text><text transform="translate(106.03 0) scale(1.014 1)">y</text><text transform="translate(124.83 0) scale(0.842 1)">_</text><text transform="translate(142.29 0) scale(0.835 1)">P</text><text transform="translate(161.94 0) scale(0.939 1)">H</text></g>
<g class="ev" font-size="35.00" transform="translate(3204.65 1118.00) rotate(-90)"><text transform="translate(-2.27 0) scale(0.971 1)">i</text><text transform="translate(6.73 0) scale(1.024 1)">n</text><text transform="translate(27.47 0) scale(1.032 1)">d</text><text transform="translate(48.47 0) scale(0.847 1)">_</text><text transform="translate(65.68 0) scale(1.082 1)">m</text><text transform="translate(98.21 0) scale(1.024 1)">u</text><text transform="translate(119.62 0) scale(0.971 1)">l</text><text transform="translate(128.22 0) scale(1.269 1)">t</text><text transform="translate(141.82 0) scale(0.971 1)">i</text><text transform="translate(151.03 0) scale(0.971 1)">l</text><text transform="translate(160.27 0) scale(0.971 1)">i</text><text transform="translate(169.28 0) scale(1.024 1)">n</text><text transform="translate(190.01 0) scale(1.026 1)">e</text><text transform="translate(210.27 0) scale(0.847 1)">_</text><text transform="translate(227.47 0) scale(1.024 1)">u</text><text transform="translate(248.26 0) scale(1.269 1)">t</text><text transform="translate(261.86 0) scale(0.971 1)">i</text><text transform="translate(271.07 0) scale(0.971 1)">l</text><text transform="translate(280.31 0) scale(0.971 1)">i</text><text transform="translate(288.89 0) scale(1.269 1)">t</text><text transform="translate(302.50 0) scale(0.971 1)">i</text><text transform="translate(311.17 0) scale(1.026 1)">e</text><text transform="translate(332.22 0) scale(0.910 1)">s</text></g>
<g class="od" font-size="35.00" transform="translate(3244.56 1336.00) rotate(-90)"><text transform="translate(-2.28 0) scale(0.973 1)">i</text><text transform="translate(6.74 0) scale(1.026 1)">n</text><text transform="translate(27.52 0) scale(1.034 1)">d</text><text transform="translate(48.56 0) scale(0.849 1)">_</text><text transform="translate(65.71 0) scale(0.955 1)">c</text><text transform="translate(84.00 0) scale(1.011 1)">o</text><text transform="translate(104.63 0) scale(1.084 1)">m</text><text transform="translate(137.22 0) scale(1.084 1)">m</text><text transform="translate(169.61 0) scale(1.028 1)">e</text><text transform="translate(189.97 0) scale(1.219 1)">r</text><text transform="translate(203.19 0) scale(0.955 1)">c</text><text transform="translate(221.99 0) scale(0.973 1)">i</text><text transform="translate(231.09 0) scale(0.856 1)">a</text><text transform="translate(251.56 0) scale(0.973 1)">l</text><text transform="translate(260.08 0) scale(0.849 1)">_</text><text transform="translate(277.73 0) scale(0.912 1)">s</text><text transform="translate(294.48 0) scale(1.028 1)">e</text><text transform="translate(314.84 0) scale(1.219 1)">r</text><text transform="translate(329.26 0) scale(1.027 1)">v</text><text transform="translate(348.98 0) scale(0.973 1)">i</text><text transform="translate(357.77 0) scale(0.955 1)">c</text><text transform="translate(376.02 0) scale(1.028 1)">e</text><text transform="translate(397.11 0) scale(0.912 1)">s</text><text transform="translate(413.67 0) scale(0.849 1)">_</text><text transform="translate(431.32 0) scale(0.912 1)">s</text><text transform="translate(448.26 0) scale(1.026 1)">u</text><text transform="translate(469.55 0) scale(1.035 1)">p</text><text transform="translate(490.78 0) scale(1.035 1)">p</text><text transform="translate(512.16 0) scale(0.973 1)">l</text><text transform="translate(521.42 0) scale(0.973 1)">i</text><text transform="translate(530.11 0) scale(1.028 1)">e</text><text transform="translate(551.19 0) scale(0.912 1)">s</text></g>
<g class="ev" font-size="35.00" transform="translate(3284.47 1167.00) rotate(-90)"><text transform="translate(-2.28 0) scale(0.972 1)">i</text><text transform="translate(6.74 0) scale(1.026 1)">n</text><text transform="translate(27.52 0) scale(1.034 1)">d</text><text transform="translate(48.55 0) scale(0.848 1)">_</text><text transform="translate(65.92 0) scale(1.026 1)">n</text><text transform="translate(87.11 0) scale(0.855 1)">a</text><text transform="translate(106.95 0) scale(1.271 1)">t</text><text transform="translate(120.21 0) scale(1.026 1)">u</text><text transform="translate(141.01 0) scale(1.219 1)">r</text><text transform="translate(155.28 0) scale(0.855 1)">a</text><text transform="translate(175.74 0) scale(0.972 1)">l</text><text transform="translate(184.26 0) scale(0.848 1)">_</text><text transform="translate(201.31 0) scale(1.034 1)">g</text><text transform="translate(222.95 0) scale(0.855 1)">a</text><text transform="translate(243.49 0) scale(0.912 1)">s</text><text transform="translate(260.05 0) scale(0.848 1)">_</text><text transform="translate(277.28 0) scale(1.026 1)">u</text><text transform="translate(298.10 0) scale(1.271 1)">t</text><text transform="translate(311.72 0) scale(0.972 1)">i</text><text transform="translate(320.95 0) scale(0.972 1)">l</text><text transform="translate(330.20 0) scale(0.972 1)">i</text><text transform="translate(338.80 0) scale(1.271 1)">t</text><text transform="translate(352.43 0) scale(0.972 1)">i</text><text transform="translate(361.11 0) scale(1.027 1)">e</text><text transform="translate(382.20 0) scale(0.912 1)">s</text></g>
<g class="od" font-size="35.00" transform="translate(3323.88 956.00) rotate(-90)"><text transform="translate(-1.41 0) scale(0.951 1)">c</text><text transform="translate(16.80 0) scale(1.007 1)">o</text><text transform="translate(37.34 0) scale(1.021 1)">u</text><text transform="translate(58.49 0) scale(1.021 1)">n</text><text transform="translate(79.09 0) scale(1.266 1)">t</text><text transform="translate(91.99 0) scale(1.214 1)">r</text><text transform="translate(106.38 0) scale(1.017 1)">y</text><text transform="translate(125.24 0) scale(0.845 1)">_</text><text transform="translate(142.47 0) scale(0.936 1)">N</text><text transform="translate(167.12 0) scale(1.029 1)">Z</text></g>
<g class="ev" font-size="35.00" transform="translate(3364.29 1316.00) rotate(-90)"><text transform="translate(-2.28 0) scale(0.973 1)">i</text><text transform="translate(6.75 0) scale(1.026 1)">n</text><text transform="translate(27.53 0) scale(1.034 1)">d</text><text transform="translate(48.58 0) scale(0.849 1)">_</text><text transform="translate(65.54 0) scale(1.272 1)">t</text><text transform="translate(78.50 0) scale(1.219 1)">r</text><text transform="translate(92.78 0) scale(0.856 1)">a</text><text transform="translate(113.05 0) scale(1.026 1)">n</text><text transform="translate(134.44 0) scale(0.912 1)">s</text><text transform="translate(151.58 0) scale(1.035 1)">p</text><text transform="translate(172.48 0) scale(1.012 1)">o</text><text transform="translate(192.80 0) scale(1.219 1)">r</text><text transform="translate(206.57 0) scale(1.272 1)">t</text><text transform="translate(220.07 0) scale(0.856 1)">a</text><text transform="translate(239.93 0) scale(1.272 1)">t</text><text transform="translate(253.56 0) scale(0.973 1)">i</text><text transform="translate(262.30 0) scale(1.012 1)">o</text><text transform="translate(283.07 0) scale(1.026 1)">n</text><text transform="translate(303.67 0) scale(0.849 1)">_</text><text transform="translate(321.27 0) scale(0.973 1)">i</text><text transform="translate(330.29 0) scale(1.026 1)">n</text><text transform="translate(350.91 0) scale(1.250 1)">f</text><text transform="translate(362.70 0) scale(1.219 1)">r</text><text transform="translate(376.98 0) scale(0.856 1)">a</text><text transform="translate(397.53 0) scale(0.912 1)">s</text><text transform="translate(414.19 0) scale(1.272 1)">t</text><text transform="translate(427.16 0) scale(1.219 1)">r</text><text transform="translate(441.21 0) scale(1.026 1)">u</text><text transform="translate(462.24 0) scale(0.955 1)">c</text><text transform="translate(480.40 0) scale(1.272 1)">t</text><text transform="translate(493.67 0) scale(1.026 1)">u</text><text transform="translate(514.48 0) scale(1.219 1)">r</text><text transform="translate(527.59 0) scale(1.028 1)">e</text></g>
<g class="od" font-size="35.00" transform="translate(3404.20 1307.00) rotate(-90)"><text transform="translate(-2.28 0) scale(0.972 1)">i</text><text transform="translate(6.74 0) scale(1.025 1)">n</text><text transform="translate(27.51 0) scale(1.034 1)">d</text><text transform="translate(48.54 0) scale(0.848 1)">_</text><text transform="translate(65.68 0) scale(0.954 1)">c</text><text transform="translate(83.97 0) scale(1.011 1)">o</text><text transform="translate(104.59 0) scale(1.084 1)">m</text><text transform="translate(137.17 0) scale(1.084 1)">m</text><text transform="translate(169.74 0) scale(1.025 1)">u</text><text transform="translate(190.98 0) scale(1.025 1)">n</text><text transform="translate(212.30 0) scale(0.972 1)">i</text><text transform="translate(221.09 0) scale(0.954 1)">c</text><text transform="translate(239.75 0) scale(0.855 1)">a</text><text transform="translate(259.59 0) scale(1.271 1)">t</text><text transform="translate(273.21 0) scale(0.972 1)">i</text><text transform="translate(281.94 0) scale(1.011 1)">o</text><text transform="translate(302.70 0) scale(1.025 1)">n</text><text transform="translate(324.07 0) scale(0.912 1)">s</text><text transform="translate(340.63 0) scale(0.848 1)">_</text><text transform="translate(357.67 0) scale(1.027 1)">e</text><text transform="translate(378.15 0) scale(1.033 1)">q</text><text transform="translate(399.54 0) scale(1.025 1)">u</text><text transform="translate(421.00 0) scale(0.972 1)">i</text><text transform="translate(430.07 0) scale(1.035 1)">p</text><text transform="translate(451.10 0) scale(1.084 1)">m</text><text transform="translate(483.49 0) scale(1.027 1)">e</text><text transform="translate(504.29 0) scale(1.025 1)">n</text><text transform="translate(524.97 0) scale(1.271 1)">t</text></g>
<g class="ev" font-size="35.00" transform="translate(3444.11 957.00) rotate(-90)"><text transform="translate(-0.88 0) scale(0.908 1)">s</text><text transform="translate(16.35 0) scale(0.969 1)">i</text><text transform="translate(24.68 0) scale(1.015 1)">z</text><text transform="translate(42.29 0) scale(1.024 1)">e</text><text transform="translate(62.51 0) scale(0.845 1)">_</text><text transform="translate(79.72 0) scale(0.945 1)">M</text><text transform="translate(107.80 0) scale(1.002 1)">I</text><text transform="translate(117.78 0) scale(0.880 1)">C</text><text transform="translate(141.27 0) scale(0.906 1)">R</text><text transform="translate(164.06 0) scale(0.937 1)">O</text></g>
<g class="od" font-size="35.00" transform="translate(3484.02 955.00) rotate(-90)"><text transform="translate(-0.88 0) scale(0.906 1)">s</text><text transform="translate(16.31 0) scale(0.967 1)">i</text><text transform="translate(24.63 0) scale(1.013 1)">z</text><text transform="translate(42.20 0) scale(1.021 1)">e</text><text transform="translate(62.37 0) scale(0.843 1)">_</text><text transform="translate(79.85 0) scale(0.843 1)">S</text><text transform="translate(100.65 0) scale(0.943 1)">M</text><text transform="translate(128.85 0) scale(0.953 1)">A</text><text transform="translate(151.82 0) scale(0.973 1)">L</text><text transform="translate(170.19 0) scale(0.973 1)">L</text></g>
<g class="ev" font-size="35.00" transform="translate(3523.93 1213.00) rotate(-90)"><text transform="translate(-2.27 0) scale(0.971 1)">i</text><text transform="translate(6.73 0) scale(1.025 1)">n</text><text transform="translate(27.49 0) scale(1.033 1)">d</text><text transform="translate(48.50 0) scale(0.848 1)">_</text><text transform="translate(65.41 0) scale(1.218 1)">r</text><text transform="translate(78.50 0) scale(1.026 1)">e</text><text transform="translate(99.37 0) scale(0.855 1)">a</text><text transform="translate(119.82 0) scale(0.971 1)">l</text><text transform="translate(128.33 0) scale(0.848 1)">_</text><text transform="translate(145.35 0) scale(1.026 1)">e</text><text transform="translate(166.41 0) scale(0.911 1)">s</text><text transform="translate(183.05 0) scale(1.270 1)">t</text><text transform="translate(196.53 0) scale(0.855 1)">a</text><text transform="translate(216.35 0) scale(1.270 1)">t</text><text transform="translate(229.41 0) scale(1.026 1)">e</text><text transform="translate(249.68 0) scale(0.848 1)">_</text><text transform="translate(266.75 0) scale(1.010 1)">o</text><text transform="translate(287.54 0) scale(1.034 1)">p</text><text transform="translate(308.36 0) scale(1.026 1)">e</text><text transform="translate(328.70 0) scale(1.218 1)">r</text><text transform="translate(342.96 0) scale(0.855 1)">a</text><text transform="translate(362.78 0) scale(1.270 1)">t</text><text transform="translate(376.39 0) scale(0.971 1)">i</text><text transform="translate(385.11 0) scale(1.010 1)">o</text><text transform="translate(405.86 0) scale(1.025 1)">n</text><text transform="translate(427.21 0) scale(0.911 1)">s</text></g>
<g class="od" font-size="35.00" transform="translate(3563.84 1010.00) rotate(-90)"><text transform="translate(-2.27 0) scale(0.969 1)">i</text><text transform="translate(6.72 0) scale(1.022 1)">n</text><text transform="translate(27.41 0) scale(1.030 1)">d</text><text transform="translate(48.36 0) scale(0.845 1)">_</text><text transform="translate(65.53 0) scale(1.080 1)">m</text><text transform="translate(98.21 0) scale(0.852 1)">a</text><text transform="translate(118.18 0) scale(0.951 1)">c</text><text transform="translate(136.56 0) scale(1.029 1)">h</text><text transform="translate(157.92 0) scale(0.969 1)">i</text><text transform="translate(166.90 0) scale(1.022 1)">n</text><text transform="translate(187.59 0) scale(1.023 1)">e</text><text transform="translate(207.87 0) scale(1.214 1)">r</text><text transform="translate(222.26 0) scale(1.018 1)">y</text></g>
<g class="ev" font-size="35.00" transform="translate(3603.76 1198.00) rotate(-90)"><text transform="translate(-2.28 0) scale(0.973 1)">i</text><text transform="translate(6.74 0) scale(1.026 1)">n</text><text transform="translate(27.53 0) scale(1.034 1)">d</text><text transform="translate(48.57 0) scale(0.849 1)">_</text><text transform="translate(65.72 0) scale(0.955 1)">c</text><text transform="translate(84.01 0) scale(1.012 1)">o</text><text transform="translate(104.78 0) scale(1.026 1)">n</text><text transform="translate(125.47 0) scale(1.272 1)">t</text><text transform="translate(138.97 0) scale(0.856 1)">a</text><text transform="translate(159.46 0) scale(0.973 1)">i</text><text transform="translate(168.48 0) scale(1.026 1)">n</text><text transform="translate(189.26 0) scale(1.028 1)">e</text><text transform="translate(209.62 0) scale(1.219 1)">r</text><text transform="translate(224.08 0) scale(0.912 1)">s</text><text transform="translate(240.65 0) scale(0.849 1)">_</text><text transform="translate(258.08 0) scale(1.035 1)">p</text><text transform="translate(279.35 0) scale(0.856 1)">a</text><text transform="translate(299.40 0) scale(0.955 1)">c</text><text transform="translate(317.85 0) scale(1.064 1)">k</text><text transform="translate(336.67 0) scale(0.856 1)">a</text><text transform="translate(356.62 0) scale(1.034 1)">g</text><text transform="translate(378.40 0) scale(0.973 1)">i</text><text transform="translate(387.42 0) scale(1.026 1)">n</text><text transform="translate(408.20 0) scale(1.034 1)">g</text></g>
<g class="od" font-size="35.00" transform="translate(3644.17 862.00) rotate(-90)"><text transform="translate(-0.61 0) scale(1.241 1)">f</text><text transform="translate(11.40 0) scale(1.076 1)">m</text><text transform="translate(43.61 0) scale(1.004 1)">o</text><text transform="translate(64.10 0) scale(1.076 1)">m</text></g>
<g class="ev" font-size="35.00" transform="translate(3684.08 982.00) rotate(-90)"><text transform="translate(-0.88 0) scale(0.908 1)">s</text><text transform="translate(15.80 0) scale(1.029 1)">d</text><text transform="translate(37.47 0) scale(0.968 1)">i</text><text transform="translate(46.73 0) scale(0.908 1)">s</text><text transform="translate(63.51 0) scale(0.950 1)">c</text><text transform="translate(81.56 0) scale(1.214 1)">r</text><text transform="translate(94.61 0) scale(1.023 1)">e</text><text transform="translate(115.37 0) scale(1.030 1)">p</text><text transform="translate(136.55 0) scale(0.852 1)">a</text><text transform="translate(156.72 0) scale(1.021 1)">n</text><text transform="translate(177.51 0) scale(0.950 1)">c</text><text transform="translate(196.27 0) scale(1.017 1)">y</text></g>
<g class="od" font-size="35.00" transform="translate(3723.99 954.00) rotate(-90)"><text transform="translate(-2.27 0) scale(0.968 1)">i</text><text transform="translate(6.57 0) scale(1.078 1)">m</text><text transform="translate(39.18 0) scale(1.030 1)">p</text><text transform="translate(60.34 0) scale(0.851 1)">a</text><text transform="translate(80.28 0) scale(0.950 1)">c</text><text transform="translate(98.35 0) scale(1.265 1)">t</text><text transform="translate(111.35 0) scale(0.879 1)">C</text><text transform="translate(134.51 0) scale(1.006 1)">o</text><text transform="translate(155.45 0) scale(0.907 1)">s</text><text transform="translate(172.02 0) scale(1.265 1)">t</text></g>
<g class="ev" font-size="35.00" transform="translate(3763.90 987.00) rotate(-90)"><text transform="translate(-2.34 0) scale(1.037 1)">p</text><text transform="translate(18.55 0) scale(1.036 1)">d</text><text transform="translate(40.37 0) scale(0.974 1)">i</text><text transform="translate(49.68 0) scale(0.914 1)">s</text><text transform="translate(66.57 0) scale(0.956 1)">c</text><text transform="translate(84.73 0) scale(1.221 1)">r</text><text transform="translate(97.86 0) scale(1.029 1)">e</text><text transform="translate(118.75 0) scale(1.037 1)">p</text><text transform="translate(140.06 0) scale(0.857 1)">a</text><text transform="translate(160.36 0) scale(1.028 1)">n</text><text transform="translate(181.28 0) scale(0.956 1)">c</text><text transform="translate(200.16 0) scale(1.024 1)">y</text></g>
<g class="od" font-size="35.00" transform="translate(3803.31 913.00) rotate(-90)"><text transform="translate(-0.12 0) scale(1.031 1)">v</text><text transform="translate(19.55 0) scale(0.859 1)">a</text><text transform="translate(40.11 0) scale(0.977 1)">l</text><text transform="translate(49.05 0) scale(1.030 1)">u</text><text transform="translate(70.05 0) scale(1.032 1)">e</text><text transform="translate(90.44 0) scale(0.852 1)">_</text><text transform="translate(108.09 0) scale(0.977 1)">l</text><text transform="translate(117.39 0) scale(0.977 1)">i</text><text transform="translate(126.13 0) scale(1.037 1)">q</text></g>
<g class="ev" font-size="35.00" transform="translate(3843.72 933.00) rotate(-90)"><text transform="translate(-2.29 0) scale(0.971 1)">l</text><text transform="translate(6.95 0) scale(0.971 1)">i</text><text transform="translate(15.95 0) scale(1.024 1)">n</text><text transform="translate(36.68 0) scale(1.026 1)">e</text><text transform="translate(57.53 0) scale(0.854 1)">a</text><text transform="translate(77.31 0) scale(1.216 1)">r</text><text transform="translate(91.13 0) scale(0.881 1)">C</text><text transform="translate(114.36 0) scale(1.009 1)">o</text><text transform="translate(135.36 0) scale(0.910 1)">s</text><text transform="translate(151.99 0) scale(1.269 1)">t</text></g>
<g class="od" font-size="35.00" transform="translate(3883.63 897.00) rotate(-90)"><text transform="translate(-0.88 0) scale(0.901 1)">s</text><text transform="translate(15.58 0) scale(1.256 1)">t</text><text transform="translate(28.92 0) scale(0.845 1)">a</text><text transform="translate(48.99 0) scale(1.023 1)">b</text><text transform="translate(70.14 0) scale(0.961 1)">i</text><text transform="translate(79.25 0) scale(0.961 1)">l</text><text transform="translate(88.40 0) scale(0.961 1)">i</text><text transform="translate(96.89 0) scale(1.256 1)">t</text><text transform="translate(110.40 0) scale(1.010 1)">y</text></g>
<g class="ev" font-size="35.00" transform="translate(3923.54 888.00) rotate(-90)"><text transform="translate(-0.88 0) scale(0.902 1)">s</text><text transform="translate(16.06 0) scale(1.024 1)">p</text><text transform="translate(36.68 0) scale(1.016 1)">e</text><text transform="translate(57.04 0) scale(0.944 1)">c</text><text transform="translate(74.97 0) scale(1.206 1)">r</text><text transform="translate(87.93 0) scale(1.016 1)">e</text><text transform="translate(108.09 0) scale(1.258 1)">t</text></g>
<g class="od" font-size="35.00" transform="translate(3963.45 845.00) rotate(-90)"><text transform="translate(-0.61 0) scale(1.227 1)">f</text><text transform="translate(11.19 0) scale(0.938 1)">c</text><text transform="translate(29.15 0) scale(0.993 1)">o</text><text transform="translate(49.81 0) scale(0.896 1)">s</text><text transform="translate(66.18 0) scale(1.249 1)">t</text></g>
<g class="ev" font-size="35.00" transform="translate(4003.37 959.00) rotate(-90)"><text transform="translate(-2.52 0) scale(1.084 1)">m</text><text transform="translate(29.93 0) scale(1.012 1)">o</text><text transform="translate(50.57 0) scale(1.084 1)">m</text><text transform="translate(82.98 0) scale(1.028 1)">e</text><text transform="translate(103.80 0) scale(1.026 1)">n</text><text transform="translate(124.49 0) scale(1.272 1)">t</text><text transform="translate(137.76 0) scale(1.026 1)">u</text><text transform="translate(158.88 0) scale(1.084 1)">m</text></g>
<g class="od" font-size="35.00" transform="translate(4043.28 883.00) rotate(-90)"><text transform="translate(-2.53 0) scale(1.090 1)">m</text><text transform="translate(30.46 0) scale(0.860 1)">a</text><text transform="translate(50.39 0) scale(1.226 1)">r</text><text transform="translate(64.52 0) scale(1.070 1)">k</text><text transform="translate(82.39 0) scale(1.033 1)">e</text><text transform="translate(102.90 0) scale(1.278 1)">t</text></g>
<g class="ev" font-size="35.00" transform="translate(4083.19 889.00) rotate(-90)"><text transform="translate(-2.38 0) scale(1.025 1)">n</text><text transform="translate(18.37 0) scale(1.027 1)">e</text><text transform="translate(38.84 0) scale(1.033 1)">g</text><text transform="translate(60.57 0) scale(0.972 1)">l</text><text transform="translate(69.27 0) scale(1.027 1)">e</text><text transform="translate(89.83 0) scale(0.954 1)">c</text><text transform="translate(107.97 0) scale(1.270 1)">t</text></g>
<g class="od" font-size="35.00" transform="translate(4122.60 958.00) rotate(-90)"><text transform="translate(-0.89 0) scale(0.909 1)">s</text><text transform="translate(16.37 0) scale(0.970 1)">i</text><text transform="translate(24.71 0) scale(1.016 1)">z</text><text transform="translate(42.34 0) scale(1.025 1)">e</text><text transform="translate(62.57 0) scale(0.846 1)">_</text><text transform="translate(79.71 0) scale(0.976 1)">L</text><text transform="translate(98.62 0) scale(0.956 1)">A</text><text transform="translate(121.87 0) scale(0.907 1)">R</text><text transform="translate(144.61 0) scale(0.925 1)">G</text><text transform="translate(171.04 0) scale(0.822 1)">E</text></g>
<g class="ev" font-size="35.00" transform="translate(4162.01 944.00) rotate(-90)"><text transform="translate(-1.41 0) scale(0.950 1)">c</text><text transform="translate(16.78 0) scale(1.006 1)">o</text><text transform="translate(37.30 0) scale(1.020 1)">u</text><text transform="translate(58.43 0) scale(1.020 1)">n</text><text transform="translate(79.01 0) scale(1.265 1)">t</text><text transform="translate(91.89 0) scale(1.213 1)">r</text><text transform="translate(106.27 0) scale(1.016 1)">y</text><text transform="translate(125.12 0) scale(0.844 1)">_</text><text transform="translate(141.78 0) scale(1.001 1)">I</text><text transform="translate(151.89 0) scale(0.979 1)">D</text></g>
<text class="ev" x="-1.33 19.88 31.31 52.99 74.67 96.17" y="0" font-size="35.60" transform="translate(569.62 148.00) rotate(-90) scale(0.9742 1)">0.0001</text>
<text class="od" x="-1.33 19.88 31.31 52.99 74.67 96.17" y="0" font-size="35.60" transform="translate(609.53 173.00) rotate(-90) scale(0.9742 1)">0.0001</text>
<text class="ev" x="-1.33 19.88 31.31 52.99 74.67 96.17" y="0" font-size="35.60" transform="translate(649.44 183.00) rotate(-90) scale(0.9742 1)">0.0001</text>
<text class="od" x="-1.33 19.88 31.31 52.99 74.67 96.17" y="0" font-size="35.60" transform="translate(689.35 184.00) rotate(-90) scale(0.9742 1)">0.0001</text>
<text class="ev" x="-1.40 19.68 30.99 52.50 74.00 95.51" y="0" font-size="35.60" transform="translate(729.26 202.00) rotate(-90) scale(0.9832 1)">0.0000</text>
<text class="od" x="-1.40 19.68 30.99 52.50 74.00 95.51" y="0" font-size="35.60" transform="translate(769.18 202.00) rotate(-90) scale(0.9832 1)">0.0000</text>
<text class="ev" x="-1.40 19.68 30.99 52.50 74.00 95.51" y="0" font-size="35.60" transform="translate(809.09 203.00) rotate(-90) scale(0.9832 1)">0.0000</text>
<text class="od" x="-1.40 19.68 30.99 52.50 74.00 95.51" y="0" font-size="35.60" transform="translate(849.00 206.00) rotate(-90) scale(0.9832 1)">0.0000</text>
<text class="ev" x="-1.40 19.68 30.99 52.50 74.00 95.51" y="0" font-size="35.60" transform="translate(888.91 207.00) rotate(-90) scale(0.9832 1)">0.0000</text>
<text class="od" x="-1.40 19.68 30.99 52.50 74.00 95.51" y="0" font-size="35.60" transform="translate(928.82 207.00) rotate(-90) scale(0.9832 1)">0.0000</text>
<text class="ev" x="-1.40 19.68 30.99 52.50 74.00 95.51" y="0" font-size="35.60" transform="translate(968.73 207.00) rotate(-90) scale(0.9832 1)">0.0000</text>
<text class="od" x="-1.40 19.68 30.99 52.50 74.00 95.51" y="0" font-size="35.60" transform="translate(1008.64 207.00) rotate(-90) scale(0.9832 1)">0.0000</text>
<text class="ev" x="-1.40 19.68 30.99 52.50 74.00 95.51" y="0" font-size="35.60" transform="translate(1048.55 207.00) rotate(-90) scale(0.9832 1)">0.0000</text>
<text class="od" x="-1.40 19.68 30.99 52.50 74.00 95.51" y="0" font-size="35.60" transform="translate(1088.46 207.00) rotate(-90) scale(0.9832 1)">0.0000</text>
<text class="ev" x="-1.40 19.68 30.99 52.50 74.00 95.51" y="0" font-size="35.60" transform="translate(1128.37 207.00) rotate(-90) scale(0.9832 1)">0.0000</text>
<text class="od" x="-1.40 19.68 30.99 52.50 74.00 95.51" y="0" font-size="35.60" transform="translate(1168.29 207.00) rotate(-90) scale(0.9832 1)">0.0000</text>
<text class="ev" x="-1.40 19.68 30.99 52.50 74.00 95.51" y="0" font-size="35.60" transform="translate(1208.20 207.00) rotate(-90) scale(0.9832 1)">0.0000</text>
<text class="od" x="-1.40 19.68 30.99 52.50 74.00 95.51" y="0" font-size="35.60" transform="translate(1248.11 207.00) rotate(-90) scale(0.9832 1)">0.0000</text>
<text class="ev" x="-1.40 19.68 30.99 52.50 74.00 95.51" y="0" font-size="35.60" transform="translate(1288.02 207.00) rotate(-90) scale(0.9832 1)">0.0000</text>
<text class="od" x="-1.40 19.68 30.99 52.50 74.00 95.51" y="0" font-size="35.60" transform="translate(1327.93 207.00) rotate(-90) scale(0.9832 1)">0.0000</text>
<text class="ev" x="-1.40 19.68 30.99 52.50 74.00 95.51" y="0" font-size="35.60" transform="translate(1367.84 207.00) rotate(-90) scale(0.9832 1)">0.0000</text>
<text class="od" x="-1.40 19.68 30.99 52.50 74.00 95.51" y="0" font-size="35.60" transform="translate(1407.75 207.00) rotate(-90) scale(0.9832 1)">0.0000</text>
<text class="ev" x="-1.40 19.68 30.99 52.50 74.00 95.51" y="0" font-size="35.60" transform="translate(1447.66 207.00) rotate(-90) scale(0.9832 1)">0.0000</text>
<text class="od" x="-1.40 19.68 30.99 52.50 74.00 95.51" y="0" font-size="35.60" transform="translate(1487.57 207.00) rotate(-90) scale(0.9832 1)">0.0000</text>
<text class="ev" x="-1.40 19.68 30.99 52.50 74.00 95.51" y="0" font-size="35.60" transform="translate(1527.48 207.00) rotate(-90) scale(0.9832 1)">0.0000</text>
<text class="od" x="-1.40 19.68 30.99 52.50 74.00 95.51" y="0" font-size="35.60" transform="translate(1567.40 207.00) rotate(-90) scale(0.9832 1)">0.0000</text>
<text class="ev" x="-1.40 19.68 30.99 52.50 74.00 95.51" y="0" font-size="35.60" transform="translate(1607.31 207.00) rotate(-90) scale(0.9832 1)">0.0000</text>
<text class="od" x="-1.40 19.68 30.99 52.50 74.00 95.51" y="0" font-size="35.60" transform="translate(1647.22 207.00) rotate(-90) scale(0.9832 1)">0.0000</text>
<text class="ev" x="-1.40 19.68 30.99 52.50 74.00 95.51" y="0" font-size="35.60" transform="translate(1687.13 207.00) rotate(-90) scale(0.9832 1)">0.0000</text>
<text class="od" x="-1.40 19.68 30.99 52.50 74.00 95.51" y="0" font-size="35.60" transform="translate(1727.04 207.00) rotate(-90) scale(0.9832 1)">0.0000</text>
<text class="ev" x="-1.40 19.68 30.99 52.50 74.00 95.51" y="0" font-size="35.60" transform="translate(1766.95 207.00) rotate(-90) scale(0.9832 1)">0.0000</text>
<text class="od" x="-1.40 19.68 30.99 52.50 74.00 95.51" y="0" font-size="35.60" transform="translate(1806.86 207.00) rotate(-90) scale(0.9832 1)">0.0000</text>
<text class="ev" x="-1.40 19.68 30.99 52.50 74.00 95.51" y="0" font-size="35.60" transform="translate(1846.77 207.00) rotate(-90) scale(0.9832 1)">0.0000</text>
<text class="od" x="-1.40 19.68 30.99 52.50 74.00 95.51" y="0" font-size="35.60" transform="translate(1886.68 207.00) rotate(-90) scale(0.9832 1)">0.0000</text>
<text class="ev" x="-1.40 19.68 30.99 52.50 74.00 95.51" y="0" font-size="35.60" transform="translate(1926.59 207.00) rotate(-90) scale(0.9832 1)">0.0000</text>
<text class="od" x="-1.40 19.68 30.99 52.50 74.00 95.51" y="0" font-size="35.60" transform="translate(1966.51 207.00) rotate(-90) scale(0.9832 1)">0.0000</text>
<text class="ev" x="-1.40 19.68 30.99 52.50 74.00 95.51" y="0" font-size="35.60" transform="translate(2006.42 207.00) rotate(-90) scale(0.9832 1)">0.0000</text>
<text class="od" x="-1.40 19.68 30.99 52.50 74.00 95.51" y="0" font-size="35.60" transform="translate(2046.33 207.00) rotate(-90) scale(0.9832 1)">0.0000</text>
<text class="ev" x="-1.40 19.68 30.99 52.50 74.00 95.51" y="0" font-size="35.60" transform="translate(2086.24 207.00) rotate(-90) scale(0.9832 1)">0.0000</text>
<text class="od" x="-1.40 19.68 30.99 52.50 74.00 95.51" y="0" font-size="35.60" transform="translate(2126.15 207.00) rotate(-90) scale(0.9832 1)">0.0000</text>
<text class="ev" x="-1.40 19.68 30.99 52.50 74.00 95.51" y="0" font-size="35.60" transform="translate(2166.06 207.00) rotate(-90) scale(0.9832 1)">0.0000</text>
<text class="od" x="-1.40 19.68 30.99 52.50 74.00 95.51" y="0" font-size="35.60" transform="translate(2205.97 207.00) rotate(-90) scale(0.9832 1)">0.0000</text>
<text class="ev" x="-1.40 19.68 30.99 52.50 74.00 95.51" y="0" font-size="35.60" transform="translate(2245.88 207.00) rotate(-90) scale(0.9832 1)">0.0000</text>
<text class="od" x="-1.40 19.68 30.99 52.50 74.00 95.51" y="0" font-size="35.60" transform="translate(2285.79 207.00) rotate(-90) scale(0.9832 1)">0.0000</text>
<text class="ev" x="-1.40 19.68 30.99 52.50 74.00 95.51" y="0" font-size="35.60" transform="translate(2325.70 207.00) rotate(-90) scale(0.9832 1)">0.0000</text>
<text class="od" x="-1.40 19.68 30.99 52.50 74.00 95.51" y="0" font-size="35.60" transform="translate(2365.61 207.00) rotate(-90) scale(0.9832 1)">0.0000</text>
<text class="ev" x="-1.40 19.68 30.99 52.50 74.00 95.51" y="0" font-size="35.60" transform="translate(2405.53 207.00) rotate(-90) scale(0.9832 1)">0.0000</text>
<text class="od" x="-1.40 19.68 30.99 52.50 74.00 95.51" y="0" font-size="35.60" transform="translate(2445.44 207.00) rotate(-90) scale(0.9832 1)">0.0000</text>
<text class="ev" x="-1.40 19.68 30.99 52.50 74.00 95.51" y="0" font-size="35.60" transform="translate(2485.35 207.00) rotate(-90) scale(0.9832 1)">0.0000</text>
<text class="od" x="-1.40 19.68 30.99 52.50 74.00 95.51" y="0" font-size="35.60" transform="translate(2525.26 207.00) rotate(-90) scale(0.9832 1)">0.0000</text>
<text class="ev" x="-1.40 19.68 30.99 52.50 74.00 95.51" y="0" font-size="35.60" transform="translate(2565.17 207.00) rotate(-90) scale(0.9832 1)">0.0000</text>
<text class="od" x="-1.40 19.68 30.99 52.50 74.00 95.51" y="0" font-size="35.60" transform="translate(2605.08 207.00) rotate(-90) scale(0.9832 1)">0.0000</text>
<text class="ev" x="-1.40 19.68 30.99 52.50 74.00 95.51" y="0" font-size="35.60" transform="translate(2644.99 207.00) rotate(-90) scale(0.9832 1)">0.0000</text>
<text class="od" x="-1.40 19.68 30.99 52.50 74.00 95.51" y="0" font-size="35.60" transform="translate(2684.90 207.00) rotate(-90) scale(0.9832 1)">0.0000</text>
<text class="ev" x="-1.40 19.68 30.99 52.50 74.00 95.51" y="0" font-size="35.60" transform="translate(2724.81 207.00) rotate(-90) scale(0.9832 1)">0.0000</text>
<text class="od" x="-1.40 19.68 30.99 52.50 74.00 95.51" y="0" font-size="35.60" transform="translate(2764.72 207.00) rotate(-90) scale(0.9832 1)">0.0000</text>
<text class="ev" x="-1.40 19.68 30.99 52.50 74.00 95.51" y="0" font-size="35.60" transform="translate(2804.64 207.00) rotate(-90) scale(0.9832 1)">0.0000</text>
<text class="od" x="-1.40 19.68 30.99 52.50 74.00 95.51" y="0" font-size="35.60" transform="translate(2844.55 207.00) rotate(-90) scale(0.9832 1)">0.0000</text>
<text class="ev" x="-1.40 19.68 30.99 52.50 74.00 95.51" y="0" font-size="35.60" transform="translate(2884.46 207.00) rotate(-90) scale(0.9832 1)">0.0000</text>
<text class="od" x="-1.40 19.68 30.99 52.50 74.00 95.51" y="0" font-size="35.60" transform="translate(2924.37 207.00) rotate(-90) scale(0.9832 1)">0.0000</text>
<text class="ev" x="-1.40 19.68 30.99 52.50 74.00 95.51" y="0" font-size="35.60" transform="translate(2964.28 207.00) rotate(-90) scale(0.9832 1)">0.0000</text>
<text class="od" x="-1.40 19.68 30.99 52.50 74.00 95.51" y="0" font-size="35.60" transform="translate(3004.19 207.00) rotate(-90) scale(0.9832 1)">0.0000</text>
<text class="ev" x="-1.40 19.68 30.99 52.50 74.00 95.51" y="0" font-size="35.60" transform="translate(3044.10 207.00) rotate(-90) scale(0.9832 1)">0.0000</text>
<text class="od" x="-1.40 19.68 30.99 52.50 74.00 95.51" y="0" font-size="35.60" transform="translate(3084.01 207.00) rotate(-90) scale(0.9832 1)">0.0000</text>
<text class="ev" x="-1.40 19.68 30.99 52.50 74.00 95.51" y="0" font-size="35.60" transform="translate(3123.92 207.00) rotate(-90) scale(0.9832 1)">0.0000</text>
<text class="od" x="-1.40 19.68 30.99 52.50 74.00 95.51" y="0" font-size="35.60" transform="translate(3163.83 207.00) rotate(-90) scale(0.9832 1)">0.0000</text>
<text class="ev" x="-1.40 19.68 30.99 52.50 74.00 95.51" y="0" font-size="35.60" transform="translate(3203.75 207.00) rotate(-90) scale(0.9832 1)">0.0000</text>
<text class="od" x="-1.40 19.68 30.99 52.50 74.00 95.51" y="0" font-size="35.60" transform="translate(3243.66 207.00) rotate(-90) scale(0.9832 1)">0.0000</text>
<text class="ev" x="-1.40 19.68 30.99 52.50 74.00 95.51" y="0" font-size="35.60" transform="translate(3283.57 207.00) rotate(-90) scale(0.9832 1)">0.0000</text>
<text class="od" x="-1.40 19.68 30.99 52.50 74.00 95.51" y="0" font-size="35.60" transform="translate(3323.48 207.00) rotate(-90) scale(0.9832 1)">0.0000</text>
<text class="ev" x="-1.40 19.68 30.99 52.50 74.00 95.51" y="0" font-size="35.60" transform="translate(3363.39 207.00) rotate(-90) scale(0.9832 1)">0.0000</text>
<text class="od" x="-1.40 19.68 30.99 52.50 74.00 95.51" y="0" font-size="35.60" transform="translate(3403.30 207.00) rotate(-90) scale(0.9832 1)">0.0000</text>
<text class="ev" x="-1.40 19.68 30.99 52.50 74.00 95.51" y="0" font-size="35.60" transform="translate(3443.21 207.00) rotate(-90) scale(0.9832 1)">0.0000</text>
<text class="od" x="-1.40 19.68 30.99 52.50 74.00 95.51" y="0" font-size="35.60" transform="translate(3483.12 207.00) rotate(-90) scale(0.9832 1)">0.0000</text>
<text class="ev" x="-1.40 19.68 30.99 52.50 74.00 95.51" y="0" font-size="35.60" transform="translate(3523.03 207.00) rotate(-90) scale(0.9832 1)">0.0000</text>
<text class="od" x="-1.40 19.68 30.99 52.50 74.00 95.51" y="0" font-size="35.60" transform="translate(3562.94 207.00) rotate(-90) scale(0.9832 1)">0.0000</text>
<text class="ev" x="-1.40 19.68 30.99 52.50 74.00 95.51" y="0" font-size="35.60" transform="translate(3602.86 207.00) rotate(-90) scale(0.9832 1)">0.0000</text>
<text class="od" x="-1.50 11.28 32.33 43.61 65.07 86.54 108.01" y="0" font-size="35.60" transform="translate(3642.77 206.00) rotate(-90) scale(0.9811 1)">-0.0000</text>
<text class="ev" x="-1.50 11.28 32.33 43.61 65.07 86.54 108.01" y="0" font-size="35.60" transform="translate(3682.68 208.00) rotate(-90) scale(0.9811 1)">-0.0000</text>
<text class="od" x="-1.50 11.28 32.33 43.61 65.07 86.54 108.01" y="0" font-size="35.60" transform="translate(3722.59 208.00) rotate(-90) scale(0.9811 1)">-0.0000</text>
<text class="ev" x="-1.50 11.28 32.33 43.61 65.07 86.54 108.01" y="0" font-size="35.60" transform="translate(3762.50 208.00) rotate(-90) scale(0.9811 1)">-0.0000</text>
<text class="od" x="-1.50 11.28 32.33 43.61 65.07 86.54 108.01" y="0" font-size="35.60" transform="translate(3802.41 208.00) rotate(-90) scale(0.9811 1)">-0.0000</text>
<text class="ev" x="-1.50 11.28 32.33 43.61 65.07 86.54 108.01" y="0" font-size="35.60" transform="translate(3842.32 208.00) rotate(-90) scale(0.9811 1)">-0.0000</text>
<text class="od" x="-1.50 11.28 32.33 43.61 65.07 86.54 108.01" y="0" font-size="35.60" transform="translate(3882.23 209.00) rotate(-90) scale(0.9811 1)">-0.0000</text>
<text class="ev" x="-1.50 11.28 32.33 43.61 65.07 86.54 108.01" y="0" font-size="35.60" transform="translate(3922.14 210.00) rotate(-90) scale(0.9811 1)">-0.0000</text>
<text class="od" x="-1.50 11.28 32.33 43.61 65.07 86.54 108.01" y="0" font-size="35.60" transform="translate(3962.05 212.00) rotate(-90) scale(0.9811 1)">-0.0000</text>
<text class="ev" x="-1.50 11.28 32.33 43.61 65.07 86.54 108.01" y="0" font-size="35.60" transform="translate(4001.97 212.00) rotate(-90) scale(0.9811 1)">-0.0000</text>
<text class="od" x="-1.50 11.28 32.33 43.61 65.07 86.54 108.01" y="0" font-size="35.60" transform="translate(4041.88 212.00) rotate(-90) scale(0.9811 1)">-0.0000</text>
<text class="ev" x="-1.50 11.28 32.33 43.61 65.07 86.54 108.01" y="0" font-size="35.60" transform="translate(4081.79 216.00) rotate(-90) scale(0.9811 1)">-0.0000</text>
<text class="od" x="-1.50 11.28 32.33 43.61 65.07 86.54 108.01" y="0" font-size="35.60" transform="translate(4121.70 219.00) rotate(-90) scale(0.9811 1)">-0.0000</text>
<text style="stroke:none" class="ev" x="-1.48 11.36 32.47 43.80 65.35 86.89 108.37" y="0" font-size="35.60" transform="translate(4161.61 500.00) rotate(-90) scale(0.9746 1)">-0.0007</text>
<g class="oth" font-size="49.50" transform="translate(101.00 638.50)"><text transform="translate(-2.90 0) scale(1.187 1)">−</text><text transform="translate(34.60 0) scale(0.971 1)">0</text><text transform="translate(62.82 0) scale(0.997 1)">.</text><text transform="translate(78.12 0) scale(0.971 1)">0</text><text transform="translate(107.10 0) scale(0.971 1)">0</text><text transform="translate(136.07 0) scale(0.971 1)">0</text><text transform="translate(165.62 0) scale(0.916 1)">5</text><text transform="translate(194.15 0) scale(0.971 1)">0</text></g>
<g class="oth" font-size="49.50" transform="translate(101.00 534.50)"><text transform="translate(-2.90 0) scale(1.187 1)">−</text><text transform="translate(34.59 0) scale(0.971 1)">0</text><text transform="translate(62.80 0) scale(0.997 1)">.</text><text transform="translate(78.11 0) scale(0.971 1)">0</text><text transform="translate(107.08 0) scale(0.971 1)">0</text><text transform="translate(136.05 0) scale(0.971 1)">0</text><text transform="translate(164.90 0) scale(0.936 1)">2</text><text transform="translate(194.68 0) scale(0.916 1)">5</text></g>
<g class="oth" font-size="49.50" transform="translate(136.00 430.50)"><text transform="translate(-1.88 0) scale(0.974 1)">0</text><text transform="translate(26.43 0) scale(1.000 1)">.</text><text transform="translate(41.78 0) scale(0.974 1)">0</text><text transform="translate(70.85 0) scale(0.974 1)">0</text><text transform="translate(99.92 0) scale(0.974 1)">0</text><text transform="translate(128.99 0) scale(0.974 1)">0</text><text transform="translate(158.06 0) scale(0.974 1)">0</text></g>
<g class="oth" font-size="51.50" transform="translate(2285.00 1592.25)"><text transform="translate(-3.49 0) scale(0.825 1)">F</text><text transform="translate(20.14 0) scale(0.866 1)">a</text><text transform="translate(50.04 0) scale(0.966 1)">c</text><text transform="translate(77.01 0) scale(1.286 1)">t</text><text transform="translate(96.78 0) scale(1.023 1)">o</text><text transform="translate(126.90 0) scale(1.233 1)">r</text></g>
<g class="oth" font-size="51.50" transform="translate(69.99 686.00) rotate(-90)"><text transform="translate(-2.35 0) scale(0.899 1)">C</text><text transform="translate(32.50 0) scale(1.029 1)">o</text><text transform="translate(63.47 0) scale(1.044 1)">n</text><text transform="translate(94.37 0) scale(1.294 1)">t</text><text transform="translate(114.02 0) scale(1.240 1)">r</text><text transform="translate(135.59 0) scale(0.990 1)">i</text><text transform="translate(149.29 0) scale(1.053 1)">b</text><text transform="translate(180.66 0) scale(1.044 1)">u</text><text transform="translate(211.78 0) scale(1.294 1)">t</text><text transform="translate(232.43 0) scale(0.990 1)">i</text><text transform="translate(245.63 0) scale(1.029 1)">o</text><text transform="translate(276.60 0) scale(1.044 1)">n</text></g>
<g class="oth" font-size="51.50" transform="translate(2066.00 311.50)"><text transform="translate(-3.52 0) scale(0.832 1)">F</text><text transform="translate(20.31 0) scale(0.873 1)">a</text><text transform="translate(50.48 0) scale(0.974 1)">c</text><text transform="translate(77.69 0) scale(1.298 1)">t</text><text transform="translate(97.64 0) scale(1.032 1)">o</text><text transform="translate(128.03 0) scale(1.244 1)">r</text><text transform="translate(164.54 0) scale(0.978 1)">A</text><text transform="translate(197.96 0) scale(1.298 1)">t</text><text transform="translate(217.72 0) scale(1.298 1)">t</text><text transform="translate(237.42 0) scale(1.244 1)">r</text><text transform="translate(259.06 0) scale(0.993 1)">i</text><text transform="translate(272.80 0) scale(1.056 1)">b</text><text transform="translate(304.27 0) scale(1.047 1)">u</text><text transform="translate(335.49 0) scale(1.298 1)">t</text><text transform="translate(356.20 0) scale(0.993 1)">i</text><text transform="translate(369.44 0) scale(1.032 1)">o</text><text transform="translate(400.50 0) scale(1.047 1)">n</text><text transform="translate(447.27 0) scale(1.275 1)">f</text><text transform="translate(465.21 0) scale(1.032 1)">o</text><text transform="translate(495.60 0) scale(1.244 1)">r</text><text transform="translate(531.85 0) scale(1.027 1)">I</text><text transform="translate(547.11 0) scale(1.005 1)">D</text></g>
<g class="oth" font-size="51.50" transform="translate(4595.00 415.75)"><text transform="translate(-3.49 0) scale(0.825 1)">F</text><text transform="translate(20.14 0) scale(0.866 1)">a</text><text transform="translate(50.04 0) scale(0.966 1)">c</text><text transform="translate(77.01 0) scale(1.286 1)">t</text><text transform="translate(96.78 0) scale(1.023 1)">o</text><text transform="translate(126.90 0) scale(1.233 1)">r</text></g>
</g>
</svg>
</body></html>
